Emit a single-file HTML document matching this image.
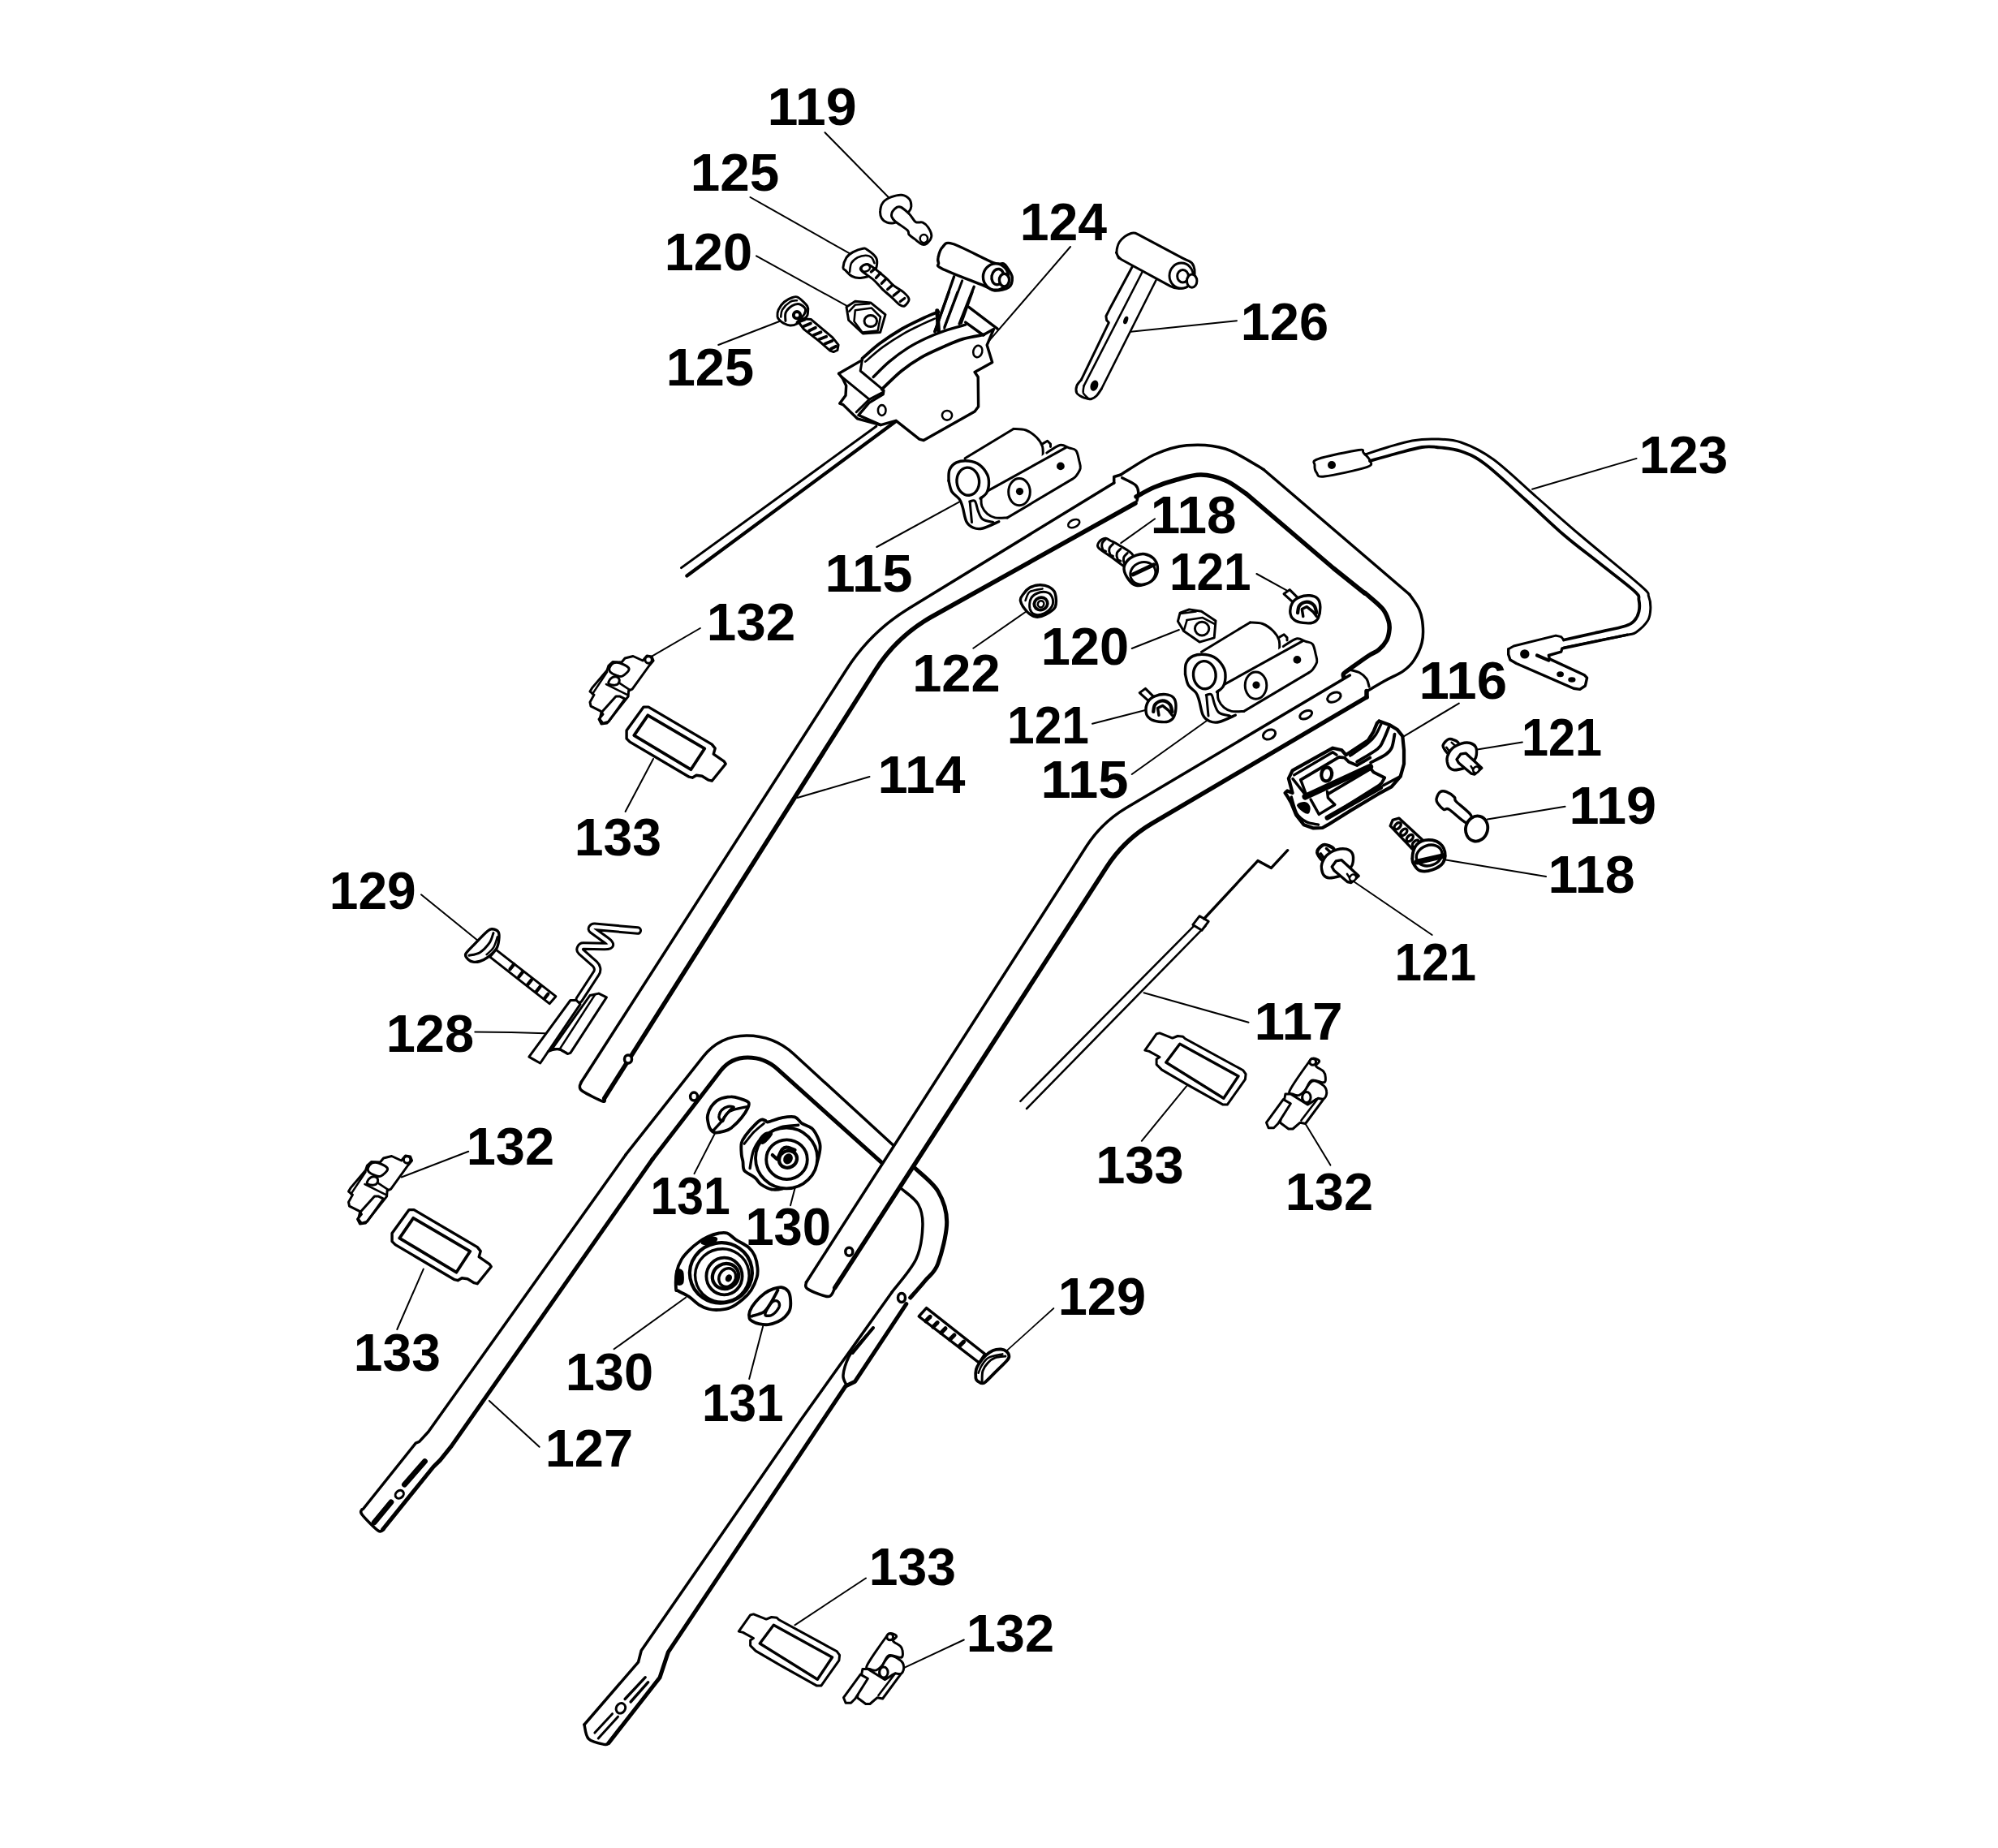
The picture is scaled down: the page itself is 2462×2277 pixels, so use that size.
<!DOCTYPE html>
<html><head><meta charset="utf-8"><style>
html,body{margin:0;padding:0;background:#fff;}
svg{position:absolute;left:0;top:0;display:block}
text{font-family:"Liberation Sans",sans-serif;font-weight:bold;fill:#000;stroke:none}
</style></head><body>
<svg width="2462" height="2277" viewBox="0 0 2462 2277" xmlns="http://www.w3.org/2000/svg" stroke="#000" stroke-linecap="round" stroke-linejoin="round" fill="none">
<text x="945.7" y="154.0" font-size="65" transform="matrix(1.0510,0,0,1,-48.47,0)">119</text>
<text x="850.7" y="235.0" font-size="65" transform="matrix(1.0098,0,0,1,-8.38,0)">125</text>
<text x="818.7" y="333.0" font-size="65">120</text>
<text x="820.7" y="475.0" font-size="65">125</text>
<text x="1256.7" y="296.0" font-size="65" transform="matrix(0.9904,0,0,1,12.12,0)">124</text>
<text x="1528.7" y="419.0" font-size="65">126</text>
<text x="2019.7" y="583.0" font-size="65" transform="matrix(1.0098,0,0,1,-19.84,0)">123</text>
<text x="1417.7" y="657.0" font-size="65" transform="matrix(1.0101,0,0,1,-14.36,0)">118</text>
<text x="1016.7" y="729.0" font-size="65" transform="matrix(1.0303,0,0,1,-30.94,0)">115</text>
<text x="1440.7" y="727.0" font-size="65" transform="matrix(0.9275,0,0,1,104.83,0)">121</text>
<text x="870.7" y="789.0" font-size="65" transform="matrix(1.0098,0,0,1,-8.58,0)">132</text>
<text x="1282.7" y="819.0" font-size="65">120</text>
<text x="1124.2" y="852.0" font-size="65">122</text>
<text x="1748.7" y="861.0" font-size="65" transform="matrix(1.0347,0,0,1,-60.82,0)">116</text>
<text x="1240.7" y="916.0" font-size="65" transform="matrix(0.9314,0,0,1,85.44,0)">121</text>
<text x="1874.7" y="931.0" font-size="65" transform="matrix(0.9137,0,0,1,162.11,0)">121</text>
<text x="1081.7" y="977.0" font-size="65" transform="matrix(1.0300,0,0,1,-32.58,0)">114</text>
<text x="1282.7" y="983.0" font-size="65" transform="matrix(1.0303,0,0,1,-39.00,0)">115</text>
<text x="1933.7" y="1015.0" font-size="65" transform="matrix(1.0265,0,0,1,-51.42,0)">119</text>
<text x="707.7" y="1054.0" font-size="65" transform="matrix(0.9902,0,0,1,6.98,0)">133</text>
<text x="1907.7" y="1100.0" font-size="65" transform="matrix(1.0202,0,0,1,-38.63,0)">118</text>
<text x="405.7" y="1120.0" font-size="65" transform="matrix(0.9863,0,0,1,5.63,0)">129</text>
<text x="1718.2" y="1208.0" font-size="65" transform="matrix(0.9272,0,0,1,125.42,0)">121</text>
<text x="1545.7" y="1281.0" font-size="65" transform="matrix(1.0408,0,0,1,-63.27,0)">117</text>
<text x="475.7" y="1296.0" font-size="65">128</text>
<text x="574.7" y="1435.0" font-size="65">132</text>
<text x="1350.2" y="1458.0" font-size="65">133</text>
<text x="1583.7" y="1491.0" font-size="65">132</text>
<text x="801.2" y="1496.0" font-size="65" transform="matrix(0.9058,0,0,1,75.86,0)">131</text>
<text x="918.3" y="1534.0" font-size="65" transform="matrix(0.9745,0,0,1,23.52,0)">130</text>
<text x="1303.7" y="1620.0" font-size="65">129</text>
<text x="435.7" y="1689.0" font-size="65" transform="matrix(0.9873,0,0,1,5.61,0)">133</text>
<text x="696.7" y="1713.0" font-size="65">130</text>
<text x="864.7" y="1751.5" font-size="65" transform="matrix(0.9284,0,0,1,62.19,0)">131</text>
<text x="671.7" y="1807.0" font-size="65">127</text>
<text x="1070.7" y="1953.5" font-size="65" transform="matrix(0.9892,0,0,1,11.59,0)">133</text>
<text x="1190.7" y="2035.0" font-size="65">132</text>
<path d="M1016.5,163.3 L1095.5,243.7" stroke-width="2.0" fill="none"/>
<path d="M924.5,243.0 L1047.6,312.7" stroke-width="2.0" fill="none"/>
<path d="M932.0,315.4 L1044.9,377.6" stroke-width="2.0" fill="none"/>
<path d="M885.2,425.0 L962.3,395.2" stroke-width="2.0" fill="none"/>
<path d="M1216.7,422.3 L1319.0,304.0" stroke-width="2.0" fill="none"/>
<path d="M1393.3,408.7 L1524.0,395.2" stroke-width="2.0" fill="none"/>
<path d="M1888.0,602.8 L2016.6,564.9" stroke-width="2.0" fill="none"/>
<path d="M1381.2,669.1 L1423.1,639.3" stroke-width="2.0" fill="none"/>
<path d="M1080.3,674.0 L1182.2,618.4" stroke-width="2.0" fill="none"/>
<path d="M1548.4,707.0 L1585.4,727.3" stroke-width="2.0" fill="none"/>
<path d="M862.9,774.0 L803.7,808.3" stroke-width="2.0" fill="none"/>
<path d="M1394.7,799.0 L1452.9,776.0" stroke-width="2.0" fill="none"/>
<path d="M1199.3,798.7 L1264.8,753.3" stroke-width="2.0" fill="none"/>
<path d="M1730.2,907.2 L1797.8,866.6" stroke-width="2.0" fill="none"/>
<path d="M1346.0,891.8 L1412.3,874.7" stroke-width="2.0" fill="none"/>
<path d="M1820.4,923.4 L1875.9,914.5" stroke-width="2.0" fill="none"/>
<path d="M982.6,983.0 L1071.5,957.0" stroke-width="2.0" fill="none"/>
<path d="M1394.7,954.0 L1486.7,888.3" stroke-width="2.0" fill="none"/>
<path d="M1832.9,1009.5 L1928.6,993.8" stroke-width="2.0" fill="none"/>
<path d="M805.0,935.0 L770.6,1000.0" stroke-width="2.0" fill="none"/>
<path d="M1781.5,1059.5 L1905.0,1080.0" stroke-width="2.0" fill="none"/>
<path d="M519.0,1102.3 L588.0,1158.3" stroke-width="2.0" fill="none"/>
<path d="M1667.9,1086.0 L1764.7,1152.0" stroke-width="2.0" fill="none"/>
<path d="M1409.5,1223.2 L1538.5,1259.7" stroke-width="2.0" fill="none"/>
<path d="M585.3,1271.4 L630.0,1271.9 L671.9,1273.3" stroke-width="2.0" fill="none"/>
<path d="M577.2,1418.8 L494.7,1450.5" stroke-width="2.0" fill="none"/>
<path d="M1462.2,1338.2 L1406.8,1405.8" stroke-width="2.0" fill="none"/>
<path d="M1608.3,1384.2 L1639.4,1435.6" stroke-width="2.0" fill="none"/>
<path d="M881.2,1396.0 L855.5,1446.1" stroke-width="2.0" fill="none"/>
<path d="M980.0,1462.3 L974.0,1485.3" stroke-width="2.0" fill="none"/>
<path d="M521.8,1563.6 L489.3,1638.0" stroke-width="2.0" fill="none"/>
<path d="M845.0,1598.8 L756.6,1662.3" stroke-width="2.0" fill="none"/>
<path d="M940.2,1634.1 L923.2,1699.1" stroke-width="2.0" fill="none"/>
<path d="M602.9,1725.9 L664.6,1782.7" stroke-width="2.0" fill="none"/>
<path d="M979.4,2002.3 L1067.0,1944.5" stroke-width="2.0" fill="none"/>
<path d="M1114.3,2054.8 L1187.8,2020.5" stroke-width="2.0" fill="none"/>
<path d="M447.3,1859.5 L512.3,1778.1 L516.6,1776.4 L527.8,1764.2 L771.1,1422.7" stroke-width="3.5" fill="none"/>
<path d="M771.1,1422.7 L866.3,1302.1 Q886.9,1276.0 920.1,1276.0 L920.1,1276.0 Q953.4,1276.0 977.9,1298.5 L1101.4,1411.7" stroke-width="3.5" fill="none"/>
<ellipse cx="855.1" cy="1351.1" rx="4.5" ry="5.0" transform="rotate(0 855.1 1351.1)" stroke-width="3.5" fill="#fff"/>
<path d="M1127.4,1439.3 C1132.1,1444.0 1149.2,1456.7 1155.8,1467.7 C1162.3,1478.8 1166.7,1490.7 1166.7,1505.6 C1166.7,1520.5 1160.2,1544.9 1155.8,1557.0 C1151.3,1569.1 1145.7,1571.0 1140.0,1578.0 C1134.3,1585.0 1124.8,1595.5 1121.7,1599.0" stroke-width="5.0" fill="none"/>
<path d="M1116.8,1606.7 L1053.6,1702.2 L1041.9,1708.0 L823.4,2035.6 L813.0,2067.0 L749.9,2147.7" stroke-width="5.0" fill="none"/>
<ellipse cx="1111.0" cy="1599.0" rx="4.5" ry="5.5" transform="rotate(0 1111.0 1599.0)" stroke-width="3.5" fill="#fff"/>
<path d="M1076.0,1636.0 C1072.5,1640.0 1060.0,1654.0 1055.0,1660.0 C1050.0,1666.0 1048.5,1666.3 1045.8,1672.0 C1043.1,1677.7 1039.5,1688.7 1039.0,1694.4 C1038.5,1700.1 1042.2,1704.1 1042.8,1706.0" stroke-width="3.5" fill="none"/>
<path d="M1076.0,1636.0 L1050.6,1667.0" stroke-width="4.0" fill="none"/>
<path d="M471.6,1884.6 L533.9,1807.5 L542.6,1798.9 L556.4,1781.6 L804.1,1428.2" stroke-width="5.0" fill="none"/>
<path d="M804.1,1428.2 L887.8,1319.5 Q900.5,1303.0 921.3,1303.0 L921.3,1303.0 Q942.1,1303.0 957.6,1316.9 L1087.7,1433.7" stroke-width="5" fill="none"/>
<path d="M1111.2,1465.0 C1114.6,1468.2 1127.2,1476.3 1131.5,1484.0 C1135.8,1491.7 1137.4,1499.7 1136.9,1511.0 C1136.5,1522.3 1135.1,1538.1 1128.8,1551.6 C1122.5,1565.1 1104.0,1585.4 1099.0,1592.2" stroke-width="3.5" fill="none"/>
<path d="M1099.0,1592.2 L986.4,1750.0 L790.2,2033.8 L786.6,2047.8 L720.0,2125.0" stroke-width="3.5" fill="none"/>
<path d="M446.0,1859.8 C446.0,1860.8 442.7,1861.6 446.0,1866.0 C449.3,1870.4 461.5,1883.0 466.0,1886.0 C470.5,1889.0 471.8,1884.5 473.0,1884.2" stroke-width="3.5" fill="none"/>
<path d="M720.0,2125.0 C720.9,2127.9 721.2,2138.3 725.3,2142.4 C729.4,2146.5 740.5,2148.5 744.6,2149.4 C748.7,2150.3 749.0,2148.0 749.9,2147.7" stroke-width="3.5" fill="none"/>
<path d="M716.3,1333.3 L1043.2,824.7 Q1072.9,778.4 1119.8,749.7 L1372.7,595.0" stroke-width="3.5" fill="none"/>
<path d="M1372.7,595.0 L1372.7,587.5 L1381.0,585.0" stroke-width="3.5" fill="none"/>
<path d="M1381.0,585.0 C1388.0,580.8 1409.2,566.0 1422.7,560.0 C1436.2,554.0 1447.8,549.9 1462.3,548.7 C1476.8,547.5 1494.2,548.0 1510.0,553.0 C1525.8,558.0 1549.2,574.2 1557.0,578.5" stroke-width="3.5" fill="none"/>
<path d="M1557.0,578.5 L1699.0,700.0 L1736.9,732.5" stroke-width="3.5" fill="none"/>
<path d="M1736.9,732.5 C1738.9,735.6 1746.1,744.6 1748.8,750.9 C1751.5,757.2 1752.7,763.4 1753.2,770.3 C1753.8,777.1 1753.9,784.8 1752.1,792.0 C1750.3,799.2 1746.1,807.8 1742.3,813.6 C1738.5,819.4 1735.1,822.5 1729.4,826.6 C1723.7,830.7 1714.9,834.2 1708.0,838.0 C1701.1,841.8 1692.2,847.1 1688.2,849.4 C1684.2,851.6 1684.7,851.1 1684.0,851.5" stroke-width="3.5" fill="none"/>
<path d="M716.3,1333.3 C716.0,1334.2 714.1,1337.1 714.4,1339.0 C714.7,1340.9 713.5,1341.7 718.2,1344.7 C722.9,1347.7 738.4,1355.6 742.8,1357.0 C747.2,1358.4 744.4,1353.8 744.7,1353.2" stroke-width="3.5" fill="none"/>
<path d="M744.7,1353.2 L1078.4,826.1 Q1105.1,783.9 1148.8,759.5 L1399.0,620.0" stroke-width="5.5" fill="none"/>
<path d="M1382.7,588.8 C1385.4,590.2 1395.7,594.6 1399.0,597.5 C1402.3,600.4 1402.4,603.0 1402.7,606.3 C1403.0,609.5 1401.3,615.2 1401.0,617.0" stroke-width="3.5" fill="none"/>
<path d="M1400.0,612.0 C1403.7,610.1 1413.7,604.0 1422.0,600.5 C1430.3,597.0 1440.3,593.6 1450.0,591.0 C1459.7,588.4 1470.0,584.8 1480.0,585.0 C1490.0,585.2 1500.8,588.1 1510.0,592.0 C1519.2,595.9 1531.2,605.5 1535.4,608.2" stroke-width="5.5" fill="none"/>
<path d="M1535.4,608.2 L1643.0,700.0 L1681.7,731.0" stroke-width="5.5" fill="none"/>
<path d="M1681.7,730.3 C1685.3,733.5 1698.5,744.0 1703.4,749.8 C1708.3,755.6 1709.6,760.7 1711.0,765.0 C1712.4,769.3 1712.4,771.8 1712.0,775.8 C1711.6,779.8 1711.0,784.6 1708.8,788.7 C1706.6,792.8 1702.8,797.4 1699.0,800.6 C1695.2,803.9 1691.8,804.4 1686.0,808.2 C1680.2,812.0 1669.4,819.8 1664.4,823.4 C1659.4,827.0 1657.2,828.1 1655.8,829.9 C1654.4,831.7 1655.8,833.5 1655.8,834.2" stroke-width="5.5" fill="none"/>
<path d="M1664.4,825.5 C1666.2,826.0 1672.0,827.0 1675.2,828.8 C1678.5,830.6 1681.9,833.5 1683.9,836.4 C1685.9,839.3 1686.6,844.5 1687.1,846.1" stroke-width="3.0" fill="none"/>
<path d="M1663.3,832.0 L1357.6,1013.4 L993.5,1580.0 L995.0,1588.0 L1020.6,1597.6 L1028.7,1586.8 L1385.4,1034.6 L1684.0,859.0 Z" stroke-width="0.0" fill="#fff"/>
<path d="M1663.3,832.0 L1387.7,995.5 Q1357.6,1013.4 1338.7,1042.8 L993.5,1580.0" stroke-width="3.5" fill="none"/>
<path d="M1684.0,851.5 L1684.0,859.0" stroke-width="5.5" fill="none"/>
<path d="M1684.0,859.0 L1419.9,1014.3 Q1385.4,1034.6 1363.7,1068.2 L1028.7,1586.8" stroke-width="5.5" fill="none"/>
<path d="M993.5,1580.0 C993.8,1581.3 990.5,1585.1 995.0,1588.0 C999.5,1590.9 1015.0,1597.8 1020.6,1597.6 C1026.2,1597.4 1027.4,1588.6 1028.7,1586.8" stroke-width="3.5" fill="none"/>
<ellipse cx="1643.9" cy="859.1" rx="8.7" ry="5.4" transform="rotate(-25 1643.9 859.1)" stroke-width="3.0" fill="#fff"/>
<ellipse cx="1609.2" cy="880.7" rx="8.0" ry="4.5" transform="rotate(-25 1609.2 880.7)" stroke-width="3.0" fill="#fff"/>
<ellipse cx="1564.0" cy="905.0" rx="8.0" ry="5.5" transform="rotate(-25 1564.0 905.0)" stroke-width="3.0" fill="#fff"/>
<ellipse cx="1046.3" cy="1542.2" rx="4.5" ry="5.0" transform="rotate(0 1046.3 1542.2)" stroke-width="3.5" fill="#fff"/>
<ellipse cx="774.0" cy="1305.0" rx="4.5" ry="5.0" transform="rotate(0 774.0 1305.0)" stroke-width="3.5" fill="#fff"/>
<path d="M1084.7,259.2 C1085.0,256.0 1086.0,251.8 1088.3,249.1 C1090.6,246.3 1094.6,244.2 1098.5,242.7 C1102.3,241.3 1107.6,239.8 1111.3,240.3 C1115.0,240.8 1118.9,243.3 1120.8,245.7 C1122.7,248.1 1122.9,252.0 1122.8,254.5 C1122.7,257.0 1122.4,257.8 1120.1,260.6 C1117.9,263.4 1112.4,269.0 1109.3,271.4 C1106.1,273.8 1103.9,274.3 1101.2,274.8 C1098.5,275.2 1095.5,275.1 1093.1,274.1 C1090.6,273.1 1087.7,271.2 1086.3,268.7 C1084.9,266.2 1084.3,262.5 1084.7,259.2 Z" stroke-width="2.98" fill="#fff"/>
<path d="M1099.8,260.6 C1100.9,258.7 1103.5,256.3 1105.2,255.4 C1107.0,254.6 1107.8,254.0 1110.4,255.4 C1113.0,256.9 1117.8,261.0 1120.8,264.0 C1123.8,267.0 1125.5,271.7 1128.2,273.4 C1130.9,275.1 1134.4,273.0 1137.0,274.1 C1139.6,275.2 1142.0,277.4 1143.8,280.2 C1145.6,283.0 1148.1,287.8 1147.8,291.0 C1147.6,294.3 1144.3,298.1 1142.4,299.8 C1140.5,301.5 1138.9,302.1 1136.3,301.2 C1133.7,300.3 1129.6,296.4 1126.9,294.4 C1124.2,292.4 1121.6,290.8 1120.1,289.0 C1118.6,287.2 1120.9,286.3 1118.1,283.6 C1115.3,280.9 1106.4,275.6 1103.2,272.8 C1100.0,269.9 1099.3,268.7 1098.7,266.7 C1098.2,264.6 1098.7,262.5 1099.8,260.6 Z" stroke-width="2.98" fill="#fff"/>
<ellipse cx="1138.4" cy="294.1" rx="4.7" ry="5.1" transform="rotate(0 1138.4 294.1)" stroke-width="2.55" fill="#fff"/>
<path d="M1038.9,329.6 C1039.1,326.9 1041.0,320.6 1043.0,317.4 C1045.0,314.2 1047.7,312.5 1051.1,310.6 C1054.5,308.8 1060.4,306.8 1063.3,306.3 C1066.2,305.8 1066.0,305.8 1068.7,307.7 C1071.4,309.5 1077.6,314.0 1079.5,317.4 C1081.4,320.8 1080.9,324.8 1080.2,328.2 C1079.5,331.6 1078.7,335.3 1075.5,337.7 C1072.2,340.1 1064.9,342.0 1060.6,342.4 C1056.3,342.9 1052.8,341.9 1049.8,340.4 C1046.7,338.9 1044.1,335.4 1042.3,333.6 C1040.5,331.8 1038.8,332.3 1038.9,329.6 Z" stroke-width="2.98" fill="#fff"/>
<path d="M1047.1,335.0 C1047.4,333.2 1047.5,327.1 1049.1,324.2 C1050.7,321.2 1053.6,319.0 1056.5,317.4 C1059.5,315.8 1063.7,314.7 1066.7,314.7 C1069.6,314.7 1072.3,315.8 1074.1,317.4 C1075.9,319.0 1076.9,323.0 1077.5,324.2" stroke-width="2.55" fill="none"/>
<path d="M1060.6,332.3 C1059.0,329.2 1064.4,326.5 1066.7,325.8 C1068.9,325.1 1069.9,325.5 1074.1,328.2 C1078.3,331.0 1087.2,338.5 1091.7,342.4 C1096.2,346.4 1097.6,349.0 1101.2,351.9 C1104.8,354.8 1110.2,357.2 1113.3,360.0 C1116.5,362.8 1119.9,366.0 1120.1,368.8 C1120.3,371.6 1116.6,375.8 1114.7,376.9 C1112.8,378.1 1111.3,377.4 1108.6,375.6 C1105.9,373.8 1102.0,369.3 1098.5,366.1 C1095.0,362.9 1091.4,360.2 1087.6,356.6 C1083.9,353.0 1080.7,348.5 1076.1,344.5 C1071.6,340.4 1062.2,335.4 1060.6,332.3 Z" stroke-width="2.98" fill="#fff"/>
<path d="M1073.4,335.0 L1078.2,330.9" stroke-width="3.4" fill="none"/>
<path d="M1079.5,342.4 L1084.9,336.3" stroke-width="3.4" fill="none"/>
<path d="M1086.3,349.2 L1091.7,343.8" stroke-width="3.4" fill="none"/>
<path d="M1093.7,356.6 L1099.8,351.2" stroke-width="3.4" fill="none"/>
<path d="M1101.2,364.1 L1107.9,358.7" stroke-width="3.4" fill="none"/>
<path d="M1109.3,371.5 L1114.7,367.5" stroke-width="3.4" fill="none"/>
<ellipse cx="1066.7" cy="330.3" rx="5.4" ry="4.1" transform="rotate(-20 1066.7 330.3)" stroke-width="2.55" fill="#fff"/>
<path d="M1043.0,378.3 L1053.8,371.2 L1072.8,372.9 L1091.0,387.7 L1084.7,409.4 L1063.3,411.0 L1045.7,394.5 L1043.0,378.3 Z" stroke-width="2.98" fill="#fff"/>
<path d="M1053.8,382.3 L1074.1,379.6 L1084.9,390.5 L1081.6,407.4 L1062.6,409.4 L1052.5,395.9 L1053.8,382.3" stroke-width="2.55" fill="none"/>
<path d="M1046.4,383.7 L1053.8,375.6 L1071.4,374.2" stroke-width="2.55" fill="none"/>
<ellipse cx="1072.8" cy="395.6" rx="7.8" ry="7.0" transform="rotate(0 1072.8 395.6)" stroke-width="2.98" fill="#fff"/>
<path d="M839.5,699.6 L1079.8,525.2" stroke-width="2.98" fill="none"/>
<path d="M846.4,709.5 L1104.0,519.0" stroke-width="4.25" fill="none"/>
<path d="M1212.4,412.3 L1224.5,405.5 L1216.2,425.2 L1222.7,446.4 L1201.1,458.5 L1205.2,464.5 L1205.6,500.9 L1201.1,507.0 L1138.2,542.6 L1132.9,541.1 L1104.1,518.3 L1085.2,523.6 L1057.9,511.5 L1070.8,496.4 L1088.2,485.8 L1088.9,481.2 L1086.7,479.7" stroke-width="3.4" fill="#fff"/>
<path d="M1086.7,479.7 C1090.7,475.9 1102.8,463.5 1110.9,457.0 C1119.0,450.4 1126.3,445.4 1135.2,440.3 C1144.0,435.3 1155.4,430.5 1163.9,426.7 C1172.5,422.9 1178.6,420.0 1186.7,417.6 C1194.7,415.2 1208.1,413.2 1212.4,412.3" stroke-width="3.82" fill="none"/>
<path d="M1033.6,460.3 L1062.4,443.6" stroke-width="3.4" fill="none"/>
<path d="M1033.6,460.3 L1038.2,466.1 L1042.7,475.2 L1042.0,487.3 L1034.8,497.1 L1038.9,498.6 L1056.4,515.8 L1085.2,523.6" stroke-width="3.4" fill="none"/>
<path d="M1036.7,463.8 L1071.2,492.1 L1088.5,483.0" stroke-width="2.98" fill="none"/>
<path d="M1071.2,492.1 L1055.2,507.7" stroke-width="2.98" fill="none"/>
<path d="M1062.4,443.6 L1060.2,457.0 L1087.4,479.7" stroke-width="2.98" fill="none"/>
<path d="M1062.4,441.8 C1066.0,438.8 1075.6,429.7 1083.6,423.6 C1091.7,417.6 1101.8,410.8 1110.9,405.5 C1120.0,400.2 1130.6,395.4 1138.2,391.8 C1145.8,388.3 1153.3,385.5 1156.4,384.2" stroke-width="3.82" fill="none"/>
<path d="M1066.2,445.6 C1069.9,442.6 1080.2,433.2 1088.2,427.4 C1096.1,421.6 1105.6,415.6 1113.9,410.8 C1122.3,406.0 1131.9,401.7 1138.2,398.6 C1144.5,395.6 1149.5,393.6 1151.8,392.6" stroke-width="2.55" fill="none"/>
<path d="M1076.1,464.5 C1079.3,461.4 1088.7,451.5 1095.8,445.6 C1102.8,439.7 1110.9,433.7 1118.5,428.9 C1126.1,424.1 1133.6,420.4 1141.2,416.8 C1148.8,413.3 1155.9,410.5 1163.9,407.7 C1172.0,404.9 1185.4,401.4 1189.7,400.2" stroke-width="3.4" fill="none"/>
<path d="M1193.5,378.2 L1229.1,405.2" stroke-width="3.4" fill="none"/>
<path d="M1189.7,397.1 L1211.7,413.0" stroke-width="3.4" fill="none"/>
<path d="M1151.8,408.5 L1169.2,360.0" stroke-width="3.4" fill="none"/>
<path d="M1163.9,402.4 L1179.8,360.0" stroke-width="2.98" fill="none"/>
<path d="M1184.4,397.9 L1198.0,360.0" stroke-width="3.4" fill="none"/>
<path d="M1154.8,382.7 L1156.4,407.0" stroke-width="5.1" fill="none"/>
<ellipse cx="1086.7" cy="505.5" rx="4.8" ry="6.4" transform="rotate(0 1086.7 505.5)" stroke-width="2.55" fill="#fff"/>
<ellipse cx="1167.0" cy="511.8" rx="6.1" ry="5.8" transform="rotate(0 1167.0 511.8)" stroke-width="2.55" fill="#fff"/>
<ellipse cx="1204.8" cy="433.0" rx="5.5" ry="7.3" transform="rotate(15 1204.8 433.0)" stroke-width="2.55" fill="#fff"/>
<path d="M1175.6,340.8 L1151.9,408.7" stroke-width="3.4" fill="none"/>
<path d="M1185.7,345.8 L1163.7,404.3" stroke-width="2.98" fill="none"/>
<path d="M1200.2,353.3 L1182.1,399.2" stroke-width="3.4" fill="none"/>
<path d="M1156.0,317.4 C1156.7,314.1 1158.3,307.4 1161.4,304.6 C1164.4,301.7 1163.8,297.3 1174.2,300.5 C1184.6,303.6 1213.2,319.4 1223.6,323.5 C1234.0,327.5 1233.4,323.6 1236.5,324.8 C1239.5,326.1 1240.1,328.1 1241.9,330.9 C1243.7,333.7 1247.0,337.9 1247.3,341.8 C1247.5,345.6 1246.8,351.2 1243.2,353.9 C1239.6,356.6 1230.8,358.3 1225.6,358.0 C1220.4,357.6 1222.9,356.4 1212.1,351.9 C1201.3,347.4 1169.9,335.6 1160.7,330.9 C1151.4,326.3 1157.4,326.4 1156.6,324.2 C1155.8,321.9 1155.2,320.7 1156.0,317.4 Z" stroke-width="3.4" fill="#fff"/>
<ellipse cx="1227.0" cy="341.1" rx="15.6" ry="16.2" transform="rotate(0 1227.0 341.1)" stroke-width="3.4" fill="#fff"/>
<ellipse cx="1229.4" cy="341.1" rx="7.4" ry="9.7" transform="rotate(10 1229.4 341.1)" stroke-width="3.4" fill="#fff"/>
<ellipse cx="1237.5" cy="345.1" rx="6.1" ry="7.8" transform="rotate(0 1237.5 345.1)" stroke-width="3.4" fill="#fff"/>
<path d="M958.0,390.0 C957.8,387.9 957.8,384.6 959.2,381.6 C960.6,378.6 963.5,374.5 966.4,372.0 C969.3,369.5 973.8,367.4 976.6,366.5 C979.5,365.6 980.5,364.7 983.5,366.5 C986.5,368.3 992.7,374.0 994.7,377.1 C996.6,380.2 995.6,383.0 995.4,385.2 C995.2,387.5 995.7,388.3 993.5,390.6 C991.2,392.9 985.3,397.3 982.0,399.0 C978.7,400.8 976.3,401.2 973.6,401.1 C970.9,401.0 968.0,399.5 965.8,398.4 C963.7,397.3 962.0,395.9 960.7,394.5 C959.4,393.1 958.3,392.2 958.0,390.0 Z" stroke-width="2.98" fill="#fff"/>
<path d="M962.2,390.6 C962.5,389.1 962.1,384.7 964.0,381.6 C965.9,378.5 970.6,373.9 973.6,372.0 C976.6,370.1 980.6,370.5 982.0,370.2" stroke-width="2.55" fill="none"/>
<path d="M967.9,395.4 C968.0,393.7 966.9,388.3 968.2,385.2 C969.6,382.1 973.2,378.6 976.0,376.8 C978.8,375.1 982.3,374.1 985.0,374.7 C987.7,375.3 991.3,378.4 992.3,380.4 C993.3,382.5 992.8,384.2 991.1,387.0 C989.3,389.8 983.5,395.5 982.0,397.2" stroke-width="2.98" fill="none"/>
<path d="M988.6,392.7 L999.5,393.6 L1025.9,415.9 L1033.1,424.9 L1031.9,431.5 L1027.1,433.6 L1022.9,432.1 L1009.1,420.1 L990.5,405.6 L985.6,399.0" stroke-width="2.98" fill="#fff"/>
<path d="M985.6,396.0 L991.7,393.6" stroke-width="3.82" fill="none"/>
<path d="M990.5,402.0 L998.9,398.4" stroke-width="3.82" fill="none"/>
<path d="M997.1,407.4 L1004.9,403.8" stroke-width="3.82" fill="none"/>
<path d="M1002.5,412.9 L1011.5,409.2" stroke-width="3.82" fill="none"/>
<path d="M1009.1,418.3 L1018.1,414.7" stroke-width="3.82" fill="none"/>
<path d="M1016.3,423.7 L1025.3,420.1" stroke-width="3.82" fill="none"/>
<path d="M1024.1,429.7 L1030.1,426.7" stroke-width="3.82" fill="none"/>
<ellipse cx="982.0" cy="388.2" rx="4.2" ry="4.2" transform="rotate(0 982.0 388.2)" stroke-width="3.82" fill="#fff"/>
<path d="M1395.3,328.5 L1367.3,380.8 L1362.9,389.5 L1363.6,394.5 L1366.3,397.6 L1332.4,467.9" stroke-width="2.98" fill="none"/>
<path d="M1332.4,467.9 C1331.5,469.1 1327.8,472.7 1326.8,475.4 C1325.9,478.0 1325.7,481.7 1326.8,484.1 C1328.0,486.4 1331.5,488.1 1333.7,489.3 C1335.9,490.5 1338.9,490.7 1339.9,491.0" stroke-width="2.98" fill="none"/>
<path d="M1407.1,336.0 L1335.6,475.4" stroke-width="2.55" fill="none"/>
<path d="M1335.6,475.4 C1335.5,476.8 1334.1,481.5 1334.9,484.1 C1335.8,486.6 1339.6,489.5 1340.5,490.5" stroke-width="2.55" fill="none"/>
<path d="M1424.5,345.3 L1357.3,479.1" stroke-width="2.55" fill="none"/>
<path d="M1357.3,479.1 C1356.3,480.5 1353.2,485.7 1351.1,487.8 C1349.0,489.9 1346.8,491.0 1344.9,491.5 C1343.0,492.1 1340.7,491.1 1339.9,491.0" stroke-width="2.98" fill="none"/>
<path d="M1378.5,317.9 L1376.9,314.5 Q1375.4,311.1 1376.2,307.4 L1376.9,304.2 Q1378.5,297.4 1384.0,293.1 L1386.4,291.2 Q1389.7,288.7 1393.7,287.5 L1393.7,287.5 Q1397.8,286.4 1401.5,288.4 L1456.4,317.6 Q1460.6,319.8 1465.0,321.6 L1465.1,321.7 Q1469.3,323.5 1470.9,327.9 L1470.9,327.9 Q1472.5,332.2 1472.1,336.8 L1471.7,341.2 Q1471.2,347.2 1466.5,350.9 L1466.5,350.9 Q1461.9,354.6 1455.9,355.2 L1455.0,355.3 Q1448.2,355.9 1442.2,352.6 L1381.8,319.7 Q1378.5,317.9 1376.9,314.5 L1375.4,311.1" stroke-width="2.975" fill="#fff"/>
<ellipse cx="1455.7" cy="339.7" rx="14.7" ry="15.6" transform="rotate(0 1455.7 339.7)" stroke-width="2.98" fill="#fff"/>
<ellipse cx="1457.5" cy="340.3" rx="6.8" ry="7.7" transform="rotate(0 1457.5 340.3)" stroke-width="2.98" fill="#fff"/>
<ellipse cx="1468.7" cy="346.2" rx="6.2" ry="8.1" transform="rotate(0 1468.7 346.2)" stroke-width="2.98" fill="#fff"/>
<ellipse cx="1387.2" cy="394.5" rx="2.7" ry="5.0" transform="rotate(20 1387.2 394.5)" stroke-width="0.0" fill="#000"/>
<ellipse cx="1348.4" cy="475.1" rx="4.7" ry="6.8" transform="rotate(20 1348.4 475.1)" stroke-width="0.0" fill="#000"/>
<path d="M1189.9,564.7 C1194.4,558.4 1206.7,554.6 1216.6,548.5 C1226.4,542.5 1241.0,531.5 1248.9,528.4 C1256.8,525.3 1259.4,528.2 1264.1,530.0 C1268.9,531.8 1274.0,535.6 1277.4,539.0 C1280.8,542.4 1283.3,546.2 1284.6,550.4 C1285.8,554.7 1291.6,558.0 1285.0,564.7 C1278.5,571.4 1257.8,582.1 1245.1,590.4 C1232.4,598.6 1218.2,614.8 1209.0,614.1 C1199.8,613.5 1193.1,594.8 1189.9,586.6 C1186.8,578.3 1185.5,571.0 1189.9,564.7 Z" stroke-width="0.0" fill="#fff"/>
<path d="M1189.0,564.7 L1248.9,528.4" stroke-width="2.98" fill="none"/>
<path d="M1248.9,528.4 C1251.4,528.6 1259.4,528.2 1264.1,530.0 C1268.9,531.8 1274.0,535.6 1277.4,539.0 C1280.8,542.4 1283.3,546.2 1284.6,550.4 C1285.8,554.7 1285.0,562.3 1285.0,564.7" stroke-width="2.98" fill="none"/>
<path d="M1285.0,546.6 L1290.7,543.3 L1294.5,547.1 L1294.5,550.4" stroke-width="2.98" fill="none"/>
<path d="M1288.8,558.0 C1299.0,550.7 1301.2,549.6 1306.0,548.5 C1310.7,547.5 1314.0,550.7 1317.4,551.9 C1320.7,553.0 1323.9,552.6 1325.9,555.2 C1328.0,557.8 1328.9,563.9 1329.7,567.5 C1330.6,571.2 1331.8,573.9 1331.2,577.1 C1330.5,580.2 1329.2,583.4 1325.9,586.6 C1322.7,589.7 1322.0,590.1 1311.7,596.1 C1301.4,602.1 1275.8,615.7 1264.1,622.7 C1252.4,629.7 1246.8,635.3 1241.3,637.9 C1235.7,640.5 1234.6,639.0 1230.8,638.4 C1227.0,637.8 1221.8,636.4 1218.5,634.1 C1215.1,631.8 1212.4,627.9 1210.9,624.6 C1209.3,621.3 1203.3,619.5 1209.0,614.1 C1214.7,608.8 1231.8,601.6 1245.1,592.3 C1258.4,582.9 1278.7,565.3 1288.8,558.0 Z" stroke-width="0.0" fill="#fff"/>
<path d="M1217.5,604.6 L1313.6,551.4" stroke-width="2.98" fill="none"/>
<path d="M1289.8,558.0 C1292.5,556.5 1301.4,549.6 1306.0,548.5 C1310.5,547.5 1314.0,550.7 1317.4,551.9 C1320.7,553.0 1323.9,552.6 1325.9,555.2 C1328.0,557.8 1328.9,563.9 1329.7,567.5 C1330.6,571.2 1331.8,573.9 1331.2,577.1 C1330.5,580.2 1327.6,584.3 1325.9,586.6 C1324.3,588.8 1322.0,589.7 1321.2,590.4" stroke-width="2.98" fill="none"/>
<path d="M1321.2,590.4 L1241.3,637.9" stroke-width="2.98" fill="none"/>
<path d="M1209.0,614.1 C1209.1,615.7 1208.6,620.5 1209.9,623.7 C1211.2,626.8 1213.9,630.8 1216.6,633.2 C1219.3,635.5 1222.0,637.1 1226.1,637.9 C1230.2,638.7 1238.8,637.9 1241.3,637.9" stroke-width="2.98" fill="none"/>
<ellipse cx="1256.0" cy="606.1" rx="13.3" ry="16.6" transform="rotate(0 1256.0 606.1)" stroke-width="2.98" fill="#fff"/>
<circle cx="1256.5" cy="605.6" r="4.6" stroke="none" fill="#000"/>
<circle cx="1306.9" cy="574.4" r="4.9" stroke="none" fill="#000"/>
<path d="M1169.0,592.3 C1169.2,590.1 1168.4,582.7 1170.0,579.0 C1171.6,575.2 1174.6,571.7 1178.5,569.9 C1182.5,568.1 1189.0,567.5 1193.7,568.0 C1198.5,568.5 1203.3,570.0 1207.1,572.8 C1210.9,575.6 1214.7,580.8 1216.6,584.7 C1218.5,588.5 1218.6,592.3 1218.5,596.1 C1218.3,599.9 1217.4,604.5 1215.6,607.5 C1213.9,610.5 1209.3,613.0 1208.0,614.1" stroke-width="3.4" fill="none"/>
<path d="M1169.0,592.3 C1169.7,594.5 1170.6,601.8 1172.8,605.6 C1175.0,609.4 1180.1,611.9 1182.3,615.1 C1184.6,618.3 1184.7,620.0 1186.1,624.6 C1187.6,629.2 1188.7,638.4 1190.9,642.7 C1193.1,646.9 1196.1,648.9 1199.4,650.3 C1202.8,651.7 1205.6,652.3 1210.9,651.0 C1216.1,649.8 1227.5,644.1 1230.8,642.7" stroke-width="3.4" fill="none"/>
<ellipse cx="1192.8" cy="593.2" rx="13.8" ry="17.1" transform="rotate(-5 1192.8 593.2)" stroke-width="3.4" fill="#fff"/>
<path d="M1194.7,617.9 C1195.8,617.9 1199.6,615.6 1201.4,617.5 C1203.1,619.4 1203.6,625.6 1205.2,629.4 C1206.7,633.1 1207.7,637.4 1210.9,639.8 C1214.0,642.2 1222.0,643.0 1224.2,643.6" stroke-width="2.98" fill="none"/>
<path d="M1195.2,618.9 L1197.5,643.6" stroke-width="2.98" fill="none"/>
<path d="M1481.4,803.2 C1485.9,796.9 1498.2,793.1 1508.1,787.0 C1517.9,781.0 1532.5,770.0 1540.4,766.9 C1548.3,763.8 1550.9,766.7 1555.6,768.5 C1560.4,770.3 1565.5,774.1 1568.9,777.5 C1572.3,780.9 1574.8,784.7 1576.1,788.9 C1577.3,793.2 1583.1,796.5 1576.5,803.2 C1570.0,809.9 1549.3,820.6 1536.6,828.9 C1523.9,837.1 1509.7,853.3 1500.5,852.6 C1491.3,852.0 1484.6,833.3 1481.4,825.1 C1478.3,816.8 1477.0,809.5 1481.4,803.2 Z" stroke-width="0.0" fill="#fff"/>
<path d="M1480.5,803.2 L1540.4,766.9" stroke-width="2.98" fill="none"/>
<path d="M1540.4,766.9 C1542.9,767.1 1550.9,766.7 1555.6,768.5 C1560.4,770.3 1565.5,774.1 1568.9,777.5 C1572.3,780.9 1574.8,784.7 1576.1,788.9 C1577.3,793.2 1576.5,800.8 1576.5,803.2" stroke-width="2.98" fill="none"/>
<path d="M1576.5,785.1 L1582.2,781.8 L1586.0,785.6 L1586.0,788.9" stroke-width="2.98" fill="none"/>
<path d="M1580.3,796.5 C1590.5,789.2 1592.7,788.1 1597.5,787.0 C1602.2,786.0 1605.5,789.2 1608.9,790.4 C1612.2,791.5 1615.4,791.1 1617.4,793.7 C1619.5,796.3 1620.4,802.4 1621.2,806.0 C1622.1,809.7 1623.3,812.4 1622.7,815.6 C1622.0,818.7 1620.7,821.9 1617.4,825.1 C1614.2,828.2 1613.5,828.6 1603.2,834.6 C1592.9,840.6 1567.3,854.2 1555.6,861.2 C1543.9,868.2 1538.3,873.8 1532.8,876.4 C1527.2,879.0 1526.1,877.5 1522.3,876.9 C1518.5,876.3 1513.3,874.9 1510.0,872.6 C1506.6,870.3 1503.9,866.4 1502.4,863.1 C1500.8,859.8 1494.8,858.0 1500.5,852.6 C1506.2,847.3 1523.3,840.1 1536.6,830.8 C1549.9,821.4 1570.2,803.8 1580.3,796.5 Z" stroke-width="0.0" fill="#fff"/>
<path d="M1509.0,843.1 L1605.1,789.9" stroke-width="2.98" fill="none"/>
<path d="M1581.3,796.5 C1584.0,795.0 1592.9,788.1 1597.5,787.0 C1602.0,786.0 1605.5,789.2 1608.9,790.4 C1612.2,791.5 1615.4,791.1 1617.4,793.7 C1619.5,796.3 1620.4,802.4 1621.2,806.0 C1622.1,809.7 1623.3,812.4 1622.7,815.6 C1622.0,818.7 1619.1,822.8 1617.4,825.1 C1615.8,827.3 1613.5,828.2 1612.7,828.9" stroke-width="2.98" fill="none"/>
<path d="M1612.7,828.9 L1532.8,876.4" stroke-width="2.98" fill="none"/>
<path d="M1500.5,852.6 C1500.6,854.2 1500.1,859.0 1501.4,862.2 C1502.7,865.3 1505.4,869.3 1508.1,871.7 C1510.8,874.0 1513.5,875.6 1517.6,876.4 C1521.7,877.2 1530.3,876.4 1532.8,876.4" stroke-width="2.98" fill="none"/>
<ellipse cx="1547.5" cy="844.6" rx="13.3" ry="16.6" transform="rotate(0 1547.5 844.6)" stroke-width="2.98" fill="#fff"/>
<circle cx="1548.0" cy="844.1" r="4.6" stroke="none" fill="#000"/>
<circle cx="1598.4" cy="812.9" r="4.9" stroke="none" fill="#000"/>
<path d="M1460.5,830.8 C1460.7,828.6 1459.9,821.2 1461.5,817.5 C1463.1,813.7 1466.1,810.2 1470.0,808.4 C1474.0,806.6 1480.5,806.0 1485.2,806.5 C1490.0,807.0 1494.8,808.5 1498.6,811.3 C1502.4,814.1 1506.2,819.3 1508.1,823.2 C1510.0,827.0 1510.1,830.8 1510.0,834.6 C1509.8,838.4 1508.9,843.0 1507.1,846.0 C1505.4,849.0 1500.8,851.5 1499.5,852.6" stroke-width="3.4" fill="none"/>
<path d="M1460.5,830.8 C1461.2,833.0 1462.1,840.3 1464.3,844.1 C1466.5,847.9 1471.6,850.4 1473.8,853.6 C1476.1,856.8 1476.2,858.5 1477.6,863.1 C1479.1,867.7 1480.2,876.9 1482.4,881.2 C1484.6,885.4 1487.6,887.4 1490.9,888.8 C1494.3,890.2 1497.1,890.8 1502.4,889.5 C1507.6,888.3 1519.0,882.6 1522.3,881.2" stroke-width="3.4" fill="none"/>
<ellipse cx="1484.3" cy="831.7" rx="13.8" ry="17.1" transform="rotate(-5 1484.3 831.7)" stroke-width="3.4" fill="#fff"/>
<path d="M1486.2,856.4 C1487.3,856.4 1491.1,854.1 1492.9,856.0 C1494.6,857.9 1495.1,864.1 1496.7,867.9 C1498.2,871.6 1499.2,875.9 1502.4,878.3 C1505.5,880.7 1513.5,881.5 1515.7,882.1" stroke-width="2.98" fill="none"/>
<path d="M1486.7,857.4 L1489.0,882.1" stroke-width="2.98" fill="none"/>
<path d="M1620.0,573.0 C1620.3,570.2 1615.0,568.7 1624.0,565.6 C1633.0,562.5 1664.7,555.7 1674.1,554.4 C1683.4,553.2 1677.7,555.8 1680.1,558.0 C1682.4,560.2 1687.4,564.7 1688.1,567.6 C1688.8,570.6 1693.4,572.4 1684.1,575.6 C1674.7,578.9 1642.3,585.9 1632.0,587.1 C1621.8,588.2 1624.4,584.8 1622.4,582.5 C1620.4,580.1 1619.8,575.8 1620.0,573.0 Z" stroke-width="2.98" fill="#fff"/>
<circle cx="1641.0" cy="573.0" r="5.0" stroke="none" fill="#000"/>
<path d="M1682.0,560.0 C1686.7,558.5 1700.3,553.8 1710.0,551.0 C1719.7,548.2 1730.4,544.7 1740.1,543.0 C1749.8,541.3 1758.2,540.7 1768.2,541.0 C1778.2,541.3 1788.2,540.8 1800.2,545.0 C1812.2,549.2 1824.6,554.7 1840.2,566.0 C1855.8,577.3 1876.0,597.3 1894.0,613.0 C1912.0,628.7 1926.6,641.9 1947.9,660.0 C1969.2,678.1 2007.8,709.2 2021.7,721.7 C2035.7,734.2 2029.6,730.1 2031.6,734.9 C2033.6,739.7 2034.0,745.3 2033.8,750.3 C2033.6,755.2 2033.4,759.8 2030.5,764.6 C2027.6,769.4 2020.4,776.0 2016.2,778.9 C2012.0,781.8 2013.6,780.4 2005.2,782.2 C1996.8,784.1 1979.0,787.4 1966.0,790.0 C1953.0,792.6 1933.5,796.7 1927.0,798.0" stroke-width="2.98" fill="none"/>
<path d="M1688.0,568.0 C1693.3,566.5 1709.3,561.8 1720.0,559.0 C1730.7,556.2 1743.8,552.3 1752.2,551.0 C1760.6,549.7 1762.2,550.2 1770.2,551.0 C1778.2,551.8 1790.2,552.5 1800.2,556.0 C1810.2,559.5 1816.9,562.0 1830.2,572.0 C1843.5,582.0 1863.7,601.3 1880.0,616.0 C1896.3,630.7 1912.9,647.0 1928.1,660.0 C1943.3,673.0 1956.7,682.6 1971.0,694.0 C1985.3,705.4 2005.9,720.8 2014.0,728.3 C2022.1,735.8 2018.6,735.1 2019.5,739.3 C2020.4,743.5 2020.4,749.4 2019.5,753.6 C2018.6,757.8 2016.8,761.7 2014.0,764.6 C2011.2,767.5 2011.2,768.6 2003.0,771.2 C1994.8,773.8 1977.7,777.1 1965.0,780.0 C1952.3,782.9 1933.3,787.1 1927.0,788.5" stroke-width="3.82" fill="none"/>
<path d="M1858.7,799.8 L1865.3,796.0 L1917.1,783.1 L1923.7,784.6 L1927.0,788.6" stroke-width="2.98" fill="none"/>
<path d="M2005.2,782.2 L1924.8,799.0 L1923.7,803.1 L1908.3,807.5 L1909.4,811.9 L1952.3,831.8 L1955.6,835.1 L1953.4,845.0 L1946.8,849.4 L1939.1,848.3 L1868.6,817.5 L1860.9,813.0 L1858.7,806.4 L1858.7,799.8" stroke-width="3.4" fill="none"/>
<path d="M1894.0,807.5 L1908.3,813.6" stroke-width="4.25" fill="none"/>
<circle cx="1878.8" cy="805.9" r="5.7" stroke="none" fill="#000"/>
<ellipse cx="1922.6" cy="830.7" rx="4.4" ry="3.5" transform="rotate(0 1922.6 830.7)" stroke-width="0.0" fill="#000"/>
<ellipse cx="1936.9" cy="837.5" rx="4.6" ry="3.3" transform="rotate(0 1936.9 837.5)" stroke-width="0.0" fill="#000"/>
<path d="M1353.5,674.8 C1351.0,671.5 1353.3,669.2 1354.7,667.3 C1356.2,665.3 1359.9,663.4 1362.2,663.2 C1364.5,663.0 1365.6,664.7 1368.5,666.2 C1371.5,667.7 1375.2,669.3 1379.8,672.2 C1384.3,675.2 1394.2,680.0 1395.9,683.8 C1397.5,687.6 1391.2,692.6 1389.5,695.0 C1387.9,697.5 1389.5,699.7 1386.2,698.3 C1383.0,697.0 1375.5,690.7 1370.0,686.8 C1364.6,682.9 1356.1,678.0 1353.5,674.8 Z" stroke-width="2.98" fill="#fff"/>
<path d="M1362.5,664.3 C1361.8,665.1 1358.6,667.4 1358.0,669.5 C1357.4,671.6 1358.0,675.4 1358.8,677.0 C1359.5,678.7 1361.9,678.9 1362.5,679.3" stroke-width="2.98" fill="none"/>
<path d="M1371.5,670.3 C1370.8,671.1 1367.7,673.4 1367.0,675.5 C1366.4,677.7 1367.0,681.4 1367.8,683.0 C1368.5,684.7 1370.9,684.9 1371.5,685.3" stroke-width="2.98" fill="none"/>
<path d="M1380.8,676.3 C1380.1,677.2 1377.0,679.4 1376.3,681.5 C1375.7,683.7 1376.3,687.4 1377.1,689.0 C1377.8,690.7 1380.2,690.9 1380.8,691.3" stroke-width="2.98" fill="none"/>
<path d="M1389.2,681.5 C1388.5,682.4 1385.4,684.7 1384.7,686.8 C1384.1,688.9 1384.7,692.7 1385.5,694.3 C1386.2,695.9 1388.6,696.2 1389.2,696.5" stroke-width="2.98" fill="none"/>
<path d="M1385.0,701.1 C1384.8,697.0 1387.0,693.3 1389.5,690.5 C1392.1,687.7 1396.6,685.5 1400.1,684.2 C1403.6,682.9 1407.1,682.1 1410.6,682.7 C1414.1,683.3 1418.5,685.3 1421.1,687.8 C1423.7,690.4 1425.8,694.3 1426.3,698.0 C1426.8,701.8 1426.0,706.7 1424.1,710.1 C1422.2,713.4 1419.1,716.4 1415.1,718.3 C1411.1,720.2 1404.1,721.9 1400.1,721.3 C1396.1,720.7 1393.6,717.9 1391.1,714.6 C1388.5,711.2 1385.3,705.1 1385.0,701.1 Z" stroke-width="3.4" fill="#fff"/>
<ellipse cx="1408.3" cy="706.3" rx="15.8" ry="13.5" transform="rotate(-20 1408.3 706.3)" stroke-width="2.98" fill="#fff"/>
<path d="M1396.3,707.8 L1421.8,695.8" stroke-width="5.1" fill="none"/>
<path d="M1582.0,731.8 L1589.2,726.6 L1601.3,738.6 L1595.3,743.8 L1582.0,731.8 Z" stroke-width="2.98" fill="#fff"/>
<path d="M1590.0,755.9 C1589.5,752.4 1590.4,746.4 1592.3,743.1 C1594.1,739.8 1597.6,737.4 1601.3,735.9 C1604.9,734.3 1610.3,733.5 1614.0,733.8 C1617.8,734.1 1621.7,735.5 1623.8,737.8 C1625.9,740.1 1626.7,743.7 1626.8,747.6 C1626.9,751.5 1626.0,757.9 1624.5,761.1 C1623.0,764.4 1620.9,766.1 1617.8,767.1 C1614.6,768.2 1609.5,767.9 1605.8,767.4 C1602.0,766.9 1597.9,766.0 1595.3,764.1 C1592.6,762.2 1590.5,759.4 1590.0,755.9 Z" stroke-width="3.4" fill="#fff"/>
<path d="M1599.0,755.1 C1599.4,753.6 1599.4,748.3 1601.3,746.1 C1603.1,743.8 1607.3,741.6 1610.3,741.6 C1613.3,741.6 1617.3,743.8 1619.3,746.1 C1621.3,748.3 1621.8,753.6 1622.3,755.1" stroke-width="4.25" fill="none"/>
<path d="M1605.8,759.6 L1604.3,750.6 L1610.3,747.6 L1617.8,753.6 L1622.3,759.6" stroke-width="3.4" fill="none"/>
<path d="M1451.4,765.6 L1454.1,755.1 L1465.4,750.9 L1480.4,753.3 L1498.0,764.9 L1496.2,785.9 L1478.1,791.1 L1458.6,777.6 L1451.4,765.6 Z" stroke-width="2.98" fill="#fff"/>
<path d="M1462.4,764.1 L1481.9,761.1 L1496.2,768.6" stroke-width="2.55" fill="none"/>
<path d="M1454.9,755.9 L1473.6,753.6" stroke-width="2.55" fill="none"/>
<path d="M1462.4,764.9 L1458.6,777.6" stroke-width="2.55" fill="none"/>
<ellipse cx="1481.1" cy="774.6" rx="8.7" ry="8.3" transform="rotate(0 1481.1 774.6)" stroke-width="2.98" fill="#fff"/>
<path d="M1257.5,740.4 C1256.6,736.7 1259.2,734.4 1261.2,731.7 C1263.1,729.0 1265.7,725.9 1268.9,724.1 C1272.2,722.3 1276.7,720.9 1280.6,720.8 C1284.5,720.6 1289.1,721.4 1292.3,723.1 C1295.6,724.8 1298.8,726.8 1300.1,730.9 C1301.4,735.0 1302.2,743.4 1300.3,747.8 C1298.4,752.1 1292.3,755.1 1288.4,757.2 C1284.5,759.3 1280.5,760.6 1276.7,760.1 C1273.0,759.6 1269.2,757.4 1266.0,754.1 C1262.8,750.8 1258.3,744.2 1257.5,740.4 Z" stroke-width="3.4" fill="#fff"/>
<path d="M1263.6,740.0 C1264.5,738.2 1265.5,731.7 1268.9,729.3 C1272.4,726.8 1281.9,726.0 1284.5,725.4" stroke-width="2.55" fill="none"/>
<path d="M1268.9,749.2 C1268.3,745.8 1268.8,739.8 1270.9,736.6 C1273.0,733.3 1278.0,730.7 1281.6,729.7 C1285.2,728.8 1289.7,729.3 1292.3,730.7 C1294.9,732.1 1296.5,735.3 1297.2,738.0 C1297.8,740.8 1298.0,744.3 1296.2,747.3 C1294.4,750.2 1290.0,754.2 1286.5,755.8 C1282.9,757.5 1277.7,758.1 1274.8,757.0 C1271.9,755.9 1269.6,752.6 1268.9,749.2 Z" stroke-width="2.98" fill="none"/>
<ellipse cx="1282.6" cy="743.9" rx="8.3" ry="7.6" transform="rotate(-20 1282.6 743.9)" stroke-width="3.82" fill="#fff"/>
<ellipse cx="1282.6" cy="744.3" rx="3.7" ry="4.1" transform="rotate(20 1282.6 744.3)" stroke-width="2.55" fill="#fff"/>
<path d="M1404.2,853.6 L1411.4,848.4 L1423.5,860.4 L1417.5,865.6 L1404.2,853.6 Z" stroke-width="2.98" fill="#fff"/>
<path d="M1412.2,877.7 C1411.7,874.2 1412.6,868.2 1414.5,864.9 C1416.3,861.6 1419.8,859.2 1423.5,857.7 C1427.1,856.1 1432.5,855.3 1436.2,855.6 C1440.0,855.9 1443.9,857.3 1446.0,859.6 C1448.1,861.9 1448.9,865.5 1449.0,869.4 C1449.1,873.3 1448.2,879.7 1446.7,882.9 C1445.2,886.2 1443.1,887.9 1440.0,888.9 C1436.8,890.0 1431.7,889.7 1428.0,889.2 C1424.2,888.7 1420.1,887.8 1417.5,885.9 C1414.8,884.0 1412.7,881.2 1412.2,877.7 Z" stroke-width="3.4" fill="#fff"/>
<path d="M1421.2,876.9 C1421.6,875.4 1421.6,870.1 1423.5,867.9 C1425.3,865.6 1429.5,863.4 1432.5,863.4 C1435.5,863.4 1439.5,865.6 1441.5,867.9 C1443.5,870.1 1444.0,875.4 1444.5,876.9" stroke-width="4.25" fill="none"/>
<path d="M1428.0,881.4 L1426.5,872.4 L1432.5,869.4 L1440.0,875.4 L1444.5,881.4" stroke-width="3.4" fill="none"/>
<path d="M1699.4,888.5 L1713.0,893.6 L1721.5,898.7 L1728.3,907.2 L1730.0,924.3 L1730.0,941.3 L1725.7,956.6 L1714.7,969.4 L1697.7,978.7 L1663.6,999.1 L1636.4,1016.2 L1629.6,1020.0 L1618.5,1020.4 L1606.6,1016.2 L1597.2,1004.3 L1590.9,988.9 L1587.0,982.1 L1583.6,977.0 L1586.2,974.5 L1592.6,977.0 L1587.9,959.1 L1592.6,949.4 L1642.3,921.7 L1653.4,924.3 L1658.5,930.2 L1685.7,912.3 L1692.6,901.3 L1696.8,891.1 L1699.4,888.5" stroke-width="4.25" fill="#fff"/>
<path d="M1701.9,891.9 C1700.8,894.2 1697.8,901.6 1695.1,905.5 C1692.4,909.5 1691.0,911.5 1685.7,915.7 C1680.5,920.0 1667.3,928.5 1663.6,931.1" stroke-width="3.4" fill="none"/>
<path d="M1711.3,896.2 C1710.1,898.9 1706.7,907.9 1704.5,912.3 C1702.2,916.7 1703.0,918.2 1697.7,922.6 C1692.3,927.0 1676.4,936.0 1672.1,938.7" stroke-width="3.82" fill="none"/>
<path d="M1718.5,904.7 C1717.9,907.4 1716.9,916.7 1715.1,920.9 C1713.3,925.0 1712.2,926.2 1707.9,929.4 C1703.5,932.5 1692.3,937.9 1689.1,939.6" stroke-width="3.82" fill="none"/>
<path d="M1594.7,954.9 L1642.3,926.8 L1647.0,930.2" stroke-width="3.4" fill="none"/>
<path d="M1602.8,960.9 L1650.0,932.8 L1656.8,933.6 L1661.9,938.7 L1672.1,943.0 L1688.3,933.6" stroke-width="3.82" fill="none"/>
<path d="M1608.3,981.7 L1688.3,944.7" stroke-width="7.65" fill="none"/>
<path d="M1637.2,977.9 L1689.1,947.2 L1692.6,951.5 L1706.2,958.3 L1702.8,964.3 L1699.4,967.7 L1660.2,992.3" stroke-width="3.82" fill="none"/>
<path d="M1635.5,1007.7 L1701.1,970.2" stroke-width="5.95" fill="none"/>
<path d="M1593.0,959.6 L1610.0,981.3" stroke-width="3.4" fill="none"/>
<path d="M1602.8,960.9 L1610.0,980.4" stroke-width="3.4" fill="none"/>
<path d="M1615.1,985.1 L1625.3,1003.4 L1644.9,991.5 L1636.4,983.0 L1635.5,975.3" stroke-width="3.4" fill="none"/>
<path d="M1704.5,967.7 L1725.7,956.6" stroke-width="3.4" fill="none"/>
<ellipse cx="1634.7" cy="954.0" rx="6.4" ry="8.5" transform="rotate(10 1634.7 954.0)" stroke-width="4.25" fill="#fff"/>
<path d="M1599.8,992.3 C1599.9,990.8 1605.3,989.5 1607.4,989.8 C1609.6,990.1 1611.8,992.2 1612.6,994.0 C1613.3,995.9 1612.7,1000.0 1611.7,1000.9 C1610.7,1001.7 1608.6,1000.6 1606.6,999.1 C1604.6,997.7 1599.6,993.9 1599.8,992.3 Z" stroke-width="3.4" fill="#000"/>
<path d="M1591.3,982.1 C1592.4,985.5 1595.0,997.4 1598.1,1002.6 C1601.2,1007.7 1605.6,1010.5 1610.0,1012.8 C1614.4,1015.0 1622.1,1015.6 1624.5,1016.2" stroke-width="3.4" fill="none"/>
<path d="M1778.1,918.4 C1778.6,915.7 1782.6,911.9 1785.0,910.8 C1787.3,909.7 1789.9,911.0 1792.0,911.9 C1794.1,912.8 1797.2,914.3 1797.4,916.2 C1797.6,918.0 1794.9,920.8 1793.1,923.0 C1791.3,925.2 1788.3,928.5 1786.6,929.2 C1784.8,929.8 1783.9,928.6 1782.5,926.8 C1781.1,925.0 1777.7,921.0 1778.1,918.4 Z" stroke-width="3.4" fill="#fff"/>
<path d="M1782.3,920.8 L1786.6,926.8" stroke-width="2.55" fill="none"/>
<path d="M1788.7,914.9 L1793.6,919.2" stroke-width="2.55" fill="none"/>
<path d="M1783.5,932.2 C1784.5,929.5 1786.1,925.4 1789.0,922.7 C1791.8,920.0 1797.1,917.4 1800.9,916.2 C1804.6,915.0 1808.5,914.8 1811.5,915.5 C1814.4,916.3 1817.2,918.1 1818.5,920.5 C1819.8,923.0 1819.6,927.6 1819.3,930.3 C1819.0,933.0 1818.5,934.4 1816.7,936.8 C1814.8,939.1 1810.4,942.5 1808.2,944.1 C1806.1,945.7 1806.6,945.7 1803.9,946.5 C1801.2,947.3 1795.0,948.8 1792.0,948.7 C1789.0,948.5 1787.2,947.1 1785.7,945.4 C1784.3,943.8 1783.7,940.9 1783.3,938.7 C1783.0,936.5 1782.6,934.9 1783.5,932.2 Z" stroke-width="3.4" fill="#fff"/>
<path d="M1795.0,935.7 L1799.8,929.2 L1806.1,928.1 L1825.8,946.3 L1817.1,954.1 L1812.8,953.0 L1797.4,940.0 L1795.0,935.7 Z" stroke-width="3.4" fill="#fff"/>
<path d="M1812.6,944.1 L1818.0,952.8" stroke-width="2.55" fill="none"/>
<ellipse cx="1819.0" cy="948.4" rx="3.5" ry="4.1" transform="rotate(40 1819.0 948.4)" stroke-width="2.55" fill="#fff"/>
<path d="M1770.1,984.2 C1770.7,981.8 1772.9,977.1 1774.9,975.7 C1776.9,974.3 1779.4,974.6 1782.3,975.7 C1785.1,976.8 1790.2,980.2 1792.2,982.2 C1794.2,984.2 1790.9,983.8 1794.4,987.6 C1797.8,991.4 1810.8,1000.6 1812.8,1004.9 C1814.8,1009.3 1810.8,1014.9 1806.3,1013.6 C1801.8,1012.3 1790.2,1000.1 1785.7,997.4 C1781.2,994.7 1781.6,998.6 1779.2,997.4 C1776.9,996.1 1773.2,992.0 1771.6,989.8 C1770.1,987.6 1769.6,986.5 1770.1,984.2 Z" stroke-width="3.4" fill="#fff"/>
<ellipse cx="1819.6" cy="1021.0" rx="13.5" ry="15.7" transform="rotate(15 1819.6 1021.0)" stroke-width="3.82" fill="#fff"/>
<path d="M1713.2,1017.7 L1716.2,1010.3 L1724.0,1008.2 L1753.2,1035.2 L1740.3,1046.1 L1713.2,1017.7 Z" stroke-width="3.4" fill="#fff"/>
<ellipse cx="1722.2" cy="1017.7" rx="3.0" ry="4.9" transform="rotate(45 1722.2 1017.7)" stroke-width="3.4" fill="#fff"/>
<ellipse cx="1729.8" cy="1025.3" rx="3.0" ry="4.9" transform="rotate(45 1729.8 1025.3)" stroke-width="3.4" fill="#fff"/>
<ellipse cx="1737.3" cy="1032.6" rx="3.0" ry="4.9" transform="rotate(45 1737.3 1032.6)" stroke-width="3.4" fill="#fff"/>
<ellipse cx="1744.4" cy="1039.4" rx="3.0" ry="4.9" transform="rotate(45 1744.4 1039.4)" stroke-width="3.4" fill="#fff"/>
<path d="M1740.3,1057.7 C1740.4,1054.2 1741.5,1047.5 1743.5,1043.9 C1745.5,1040.3 1748.6,1037.8 1752.2,1036.3 C1755.7,1034.9 1761.2,1034.7 1764.9,1035.2 C1768.7,1035.8 1772.1,1037.2 1774.7,1039.6 C1777.2,1041.9 1779.7,1045.4 1780.3,1049.3 C1780.9,1053.2 1780.7,1059.4 1778.1,1063.2 C1775.6,1066.9 1769.6,1070.2 1764.9,1071.8 C1760.2,1073.4 1753.8,1074.0 1750.0,1072.9 C1746.2,1071.8 1744.0,1067.8 1742.4,1065.3 C1740.8,1062.8 1740.1,1061.3 1740.3,1057.7 Z" stroke-width="3.82" fill="#fff"/>
<ellipse cx="1761.1" cy="1054.0" rx="16.2" ry="12.4" transform="rotate(-20 1761.1 1054.0)" stroke-width="3.4" fill="#fff"/>
<path d="M1746.0,1062.1 L1779.0,1054.5" stroke-width="6.8" fill="none"/>
<path d="M1257.4,1356.8 L1475.4,1136.6" stroke-width="2.55" fill="none"/>
<path d="M1265.1,1366.0 L1485.5,1140.8" stroke-width="2.55" fill="none"/>
<path d="M1469.9,1139.4 L1478.2,1128.7 L1489.2,1135.3 L1480.9,1146.3 L1469.9,1139.4 Z" stroke-width="2.98" fill="#fff"/>
<path d="M1483.7,1132.0 L1549.9,1060.6 L1566.5,1069.4 L1586.7,1047.7" stroke-width="3.4" fill="none"/>
<path d="M727.0,852.1 L730.0,847.1 L748.0,826.0 L750.0,820.0 L755.0,815.5 L766.0,816.0 L770.1,811.0 L780.1,808.5 L792.1,814.0 L797.1,808.0 L803.1,809.0 L805.1,814.0 L800.1,820.0 L779.1,849.1 L774.6,851.1 L774.1,858.1 L748.0,891.1 L741.0,892.1 L738.0,886.1 L743.0,880.1 L740.0,876.1 L728.0,870.1 L727.0,865.1 L732.0,856.1 L727.0,852.1 Z" stroke-width="2.98" fill="#fff"/>
<path d="M751.0,823.0 C751.7,821.2 753.9,818.0 756.0,817.0 C758.2,816.0 760.9,815.9 764.0,817.0 C767.2,818.2 774.6,821.4 775.1,824.0 C775.6,826.7 769.7,831.7 767.0,833.0 C764.4,834.4 761.5,832.9 759.0,832.0 C756.5,831.2 753.4,829.5 752.0,828.0 C750.7,826.5 750.4,824.9 751.0,823.0 Z" stroke-width="2.98" fill="none"/>
<path d="M750.0,840.1 C750.5,838.7 752.4,836.0 754.0,835.0 C755.7,834.0 758.5,833.7 760.0,834.0 C761.5,834.4 762.7,835.7 763.0,837.0 C763.4,838.4 762.9,840.9 762.0,842.1 C761.2,843.2 759.9,843.9 758.0,844.1 C756.2,844.2 752.4,843.7 751.0,843.1 C749.7,842.4 749.5,841.4 750.0,840.1 Z" stroke-width="2.98" fill="none"/>
<path d="M741.0,878.1 L759.0,858.1 L764.0,858.1 L770.1,861.1 L750.0,889.1 L743.0,891.1 L739.0,886.1 L741.0,878.1 Z" stroke-width="2.98" fill="none"/>
<path d="M730.0,855.1 L748.0,828.0" stroke-width="2.55" fill="none"/>
<path d="M747.0,843.1 L773.1,856.1" stroke-width="2.55" fill="none"/>
<path d="M764.0,842.1 L776.1,850.1" stroke-width="2.55" fill="none"/>
<ellipse cx="799.1" cy="813.0" rx="4.2" ry="4.2" transform="rotate(0 799.1 813.0)" stroke-width="2.98" fill="#fff"/>
<path d="M772.1,910.1 L772.1,900.1 L793.1,871.1 L799.1,871.1 L877.2,917.1 L881.2,922.1 L879.2,929.1 L892.2,938.1 L894.2,941.2 L877.2,962.2 L873.2,961.2 L865.1,956.2 L858.1,955.2 L853.1,958.2 L849.1,957.2 L776.1,914.1 L772.1,910.1 Z" stroke-width="3.4" fill="#fff"/>
<path d="M781.3,906.1 L798.3,881.3 L868.3,922.3 L851.3,948.2 L781.3,906.1 Z" stroke-width="3.82" fill="none"/>
<path d="M1410.8,1294.1 L1425.1,1273.9 L1429.0,1272.9 L1444.7,1279.1 L1451.2,1276.5 L1457.7,1277.2 L1460.3,1279.8 L1531.8,1318.8 L1535.1,1323.4 L1534.4,1329.9 L1512.3,1361.1 L1507.1,1361.1 L1462.9,1336.4 L1431.6,1318.1 L1425.1,1311.6 L1425.1,1305.1 L1429.0,1302.5 L1416.0,1295.4 L1410.8,1294.1 Z" stroke-width="2.98" fill="#fff"/>
<path d="M1436.8,1309.0 L1453.8,1286.3 L1526.0,1326.0 L1507.8,1353.3 L1436.8,1309.0 Z" stroke-width="3.4" fill="none"/>
<path d="M1589.7,1342.9 C1593.0,1336.4 1607.8,1315.5 1612.5,1309.0 C1617.2,1302.6 1615.8,1304.6 1617.7,1304.1 C1619.7,1303.6 1622.9,1305.1 1624.2,1305.8 C1625.5,1306.5 1626.0,1307.1 1625.5,1308.4 C1625.1,1309.7 1620.8,1311.6 1621.6,1313.6 C1622.5,1315.5 1628.8,1317.8 1630.7,1320.1 C1632.7,1322.4 1633.2,1325.0 1633.3,1327.3 C1633.4,1329.5 1634.2,1333.1 1631.4,1333.8 C1628.6,1334.4 1620.2,1329.6 1616.4,1331.2 C1612.6,1332.7 1611.2,1339.8 1608.6,1342.9 C1606.0,1345.9 1603.4,1348.5 1600.8,1349.4 C1598.2,1350.2 1594.8,1349.2 1593.0,1348.1 C1591.1,1347.0 1586.5,1349.4 1589.7,1342.9 Z" stroke-width="2.98" fill="#fff"/>
<path d="M1604.7,1353.3 C1604.9,1348.7 1612.3,1335.3 1616.4,1332.5 C1620.5,1329.6 1626.4,1334.4 1629.4,1336.4 C1632.5,1338.3 1634.2,1341.4 1634.6,1344.2 C1635.1,1347.0 1634.2,1351.5 1632.0,1353.3 C1629.9,1355.0 1624.4,1353.5 1621.6,1354.6 C1618.8,1355.7 1617.9,1360.0 1615.1,1359.8 C1612.3,1359.6 1604.5,1357.8 1604.7,1353.3 Z" stroke-width="2.98" fill="#fff"/>
<path d="M1577.4,1383.2 L1583.9,1348.1 L1590.4,1348.1 L1611.2,1361.1 L1624.2,1353.3 L1630.7,1354.6 L1608.6,1384.5 L1602.1,1383.2 L1593.0,1391.0 L1587.8,1391.0 L1577.4,1383.2 Z" stroke-width="2.98" fill="#fff"/>
<path d="M1560.5,1383.2 L1581.3,1354.6 L1590.4,1359.8 L1574.8,1384.5 L1569.6,1389.7 L1563.1,1389.7 L1560.5,1383.2 Z" stroke-width="2.98" fill="#fff"/>
<ellipse cx="1609.9" cy="1352.0" rx="5.2" ry="6.5" transform="rotate(0 1609.9 1352.0)" stroke-width="2.98" fill="#fff"/>
<path d="M1603.4,1380.6 L1624.2,1353.3" stroke-width="2.55" fill="none"/>
<ellipse cx="1617.7" cy="1308.4" rx="3.9" ry="3.9" transform="rotate(0 1617.7 1308.4)" stroke-width="2.98" fill="#fff"/>
<path d="M910.3,2010.1 L924.6,1989.9 L928.5,1988.9 L944.2,1995.1 L950.7,1992.5 L957.2,1993.2 L959.8,1995.8 L1031.3,2034.8 L1034.6,2039.4 L1033.9,2045.9 L1011.8,2077.1 L1006.6,2077.1 L962.4,2052.4 L931.1,2034.1 L924.6,2027.6 L924.6,2021.1 L928.5,2018.5 L915.5,2011.4 L910.3,2010.1 Z" stroke-width="2.98" fill="#fff"/>
<path d="M936.3,2025.0 L953.3,2002.3 L1025.5,2042.0 L1007.3,2069.3 L936.3,2025.0 Z" stroke-width="3.4" fill="none"/>
<path d="M1068.7,2051.4 C1072.0,2044.9 1086.8,2024.0 1091.5,2017.5 C1096.2,2011.1 1094.8,2013.1 1096.7,2012.6 C1098.7,2012.1 1101.9,2013.6 1103.2,2014.3 C1104.5,2015.0 1105.0,2015.6 1104.5,2016.9 C1104.1,2018.2 1099.8,2020.1 1100.6,2022.1 C1101.5,2024.0 1107.8,2026.3 1109.7,2028.6 C1111.7,2030.9 1112.2,2033.5 1112.3,2035.8 C1112.4,2038.0 1113.2,2041.6 1110.4,2042.3 C1107.6,2042.9 1099.2,2038.1 1095.4,2039.7 C1091.6,2041.2 1090.2,2048.3 1087.6,2051.4 C1085.0,2054.4 1082.4,2057.0 1079.8,2057.9 C1077.2,2058.7 1073.8,2057.7 1072.0,2056.6 C1070.1,2055.5 1065.5,2057.9 1068.7,2051.4 Z" stroke-width="2.98" fill="#fff"/>
<path d="M1083.7,2061.8 C1083.9,2057.2 1091.3,2043.8 1095.4,2041.0 C1099.5,2038.1 1105.4,2042.9 1108.4,2044.9 C1111.5,2046.8 1113.2,2049.9 1113.6,2052.7 C1114.1,2055.5 1113.2,2060.0 1111.0,2061.8 C1108.9,2063.5 1103.4,2062.0 1100.6,2063.1 C1097.8,2064.2 1096.9,2068.5 1094.1,2068.3 C1091.3,2068.1 1083.5,2066.3 1083.7,2061.8 Z" stroke-width="2.98" fill="#fff"/>
<path d="M1056.4,2091.7 L1062.9,2056.6 L1069.4,2056.6 L1090.2,2069.6 L1103.2,2061.8 L1109.7,2063.1 L1087.6,2093.0 L1081.1,2091.7 L1072.0,2099.5 L1066.8,2099.5 L1056.4,2091.7 Z" stroke-width="2.98" fill="#fff"/>
<path d="M1039.5,2091.7 L1060.3,2063.1 L1069.4,2068.3 L1053.8,2093.0 L1048.6,2098.2 L1042.1,2098.2 L1039.5,2091.7 Z" stroke-width="2.98" fill="#fff"/>
<ellipse cx="1088.9" cy="2060.5" rx="5.2" ry="6.5" transform="rotate(0 1088.9 2060.5)" stroke-width="2.98" fill="#fff"/>
<path d="M1082.4,2089.1 L1103.2,2061.8" stroke-width="2.55" fill="none"/>
<ellipse cx="1096.7" cy="2016.9" rx="3.9" ry="3.9" transform="rotate(0 1096.7 2016.9)" stroke-width="2.98" fill="#fff"/>
<path d="M429.5,1468.1 L432.5,1463.1 L450.5,1442.0 L452.5,1436.0 L457.5,1431.5 L468.5,1432.0 L472.6,1427.0 L482.6,1424.5 L494.6,1430.0 L499.6,1424.0 L505.6,1425.0 L507.6,1430.0 L502.6,1436.0 L481.6,1465.1 L477.1,1467.1 L476.6,1474.1 L450.5,1507.1 L443.5,1508.1 L440.5,1502.1 L445.5,1496.1 L442.5,1492.1 L430.5,1486.1 L429.5,1481.1 L434.5,1472.1 L429.5,1468.1 Z" stroke-width="2.98" fill="#fff"/>
<path d="M453.5,1439.0 C454.2,1437.2 456.4,1434.0 458.5,1433.0 C460.7,1432.0 463.4,1431.9 466.5,1433.0 C469.7,1434.2 477.1,1437.4 477.6,1440.0 C478.1,1442.7 472.2,1447.7 469.5,1449.0 C466.9,1450.4 464.0,1448.9 461.5,1448.0 C459.0,1447.2 455.9,1445.5 454.5,1444.0 C453.2,1442.5 452.9,1440.9 453.5,1439.0 Z" stroke-width="2.98" fill="none"/>
<path d="M452.5,1456.1 C453.0,1454.7 454.9,1452.0 456.5,1451.0 C458.2,1450.0 461.0,1449.7 462.5,1450.0 C464.0,1450.4 465.2,1451.7 465.5,1453.0 C465.9,1454.4 465.4,1456.9 464.5,1458.1 C463.7,1459.2 462.4,1459.9 460.5,1460.1 C458.7,1460.2 454.9,1459.7 453.5,1459.1 C452.2,1458.4 452.0,1457.4 452.5,1456.1 Z" stroke-width="2.98" fill="none"/>
<path d="M443.5,1494.1 L461.5,1474.1 L466.5,1474.1 L472.6,1477.1 L452.5,1505.1 L445.5,1507.1 L441.5,1502.1 L443.5,1494.1 Z" stroke-width="2.98" fill="none"/>
<path d="M432.5,1471.1 L450.5,1444.0" stroke-width="2.55" fill="none"/>
<path d="M449.5,1459.1 L475.6,1472.1" stroke-width="2.55" fill="none"/>
<path d="M466.5,1458.1 L478.6,1466.1" stroke-width="2.55" fill="none"/>
<ellipse cx="501.6" cy="1429.0" rx="4.2" ry="4.2" transform="rotate(0 501.6 1429.0)" stroke-width="2.98" fill="#fff"/>
<path d="M483.1,1529.6 L483.1,1519.6 L504.1,1490.6 L510.1,1490.6 L588.2,1536.6 L592.2,1541.6 L590.2,1548.6 L603.2,1557.6 L605.2,1560.7 L588.2,1581.7 L584.2,1580.7 L576.1,1575.7 L569.1,1574.7 L564.1,1577.7 L560.1,1576.7 L487.1,1533.6 L483.1,1529.6 Z" stroke-width="3.4" fill="#fff"/>
<path d="M492.3,1525.6 L509.3,1500.8 L579.3,1541.8 L562.3,1567.7 L492.3,1525.6 Z" stroke-width="3.82" fill="none"/>
<path d="M603.8,1179.1 L611.1,1170.1 L684.9,1227.7 L677.1,1236.7 L603.8,1179.1 Z" stroke-width="2.98" fill="#fff"/>
<path d="M628.5,1194.1 L633.3,1188.1" stroke-width="4.25" fill="none"/>
<path d="M639.3,1203.7 L644.1,1197.7" stroke-width="4.25" fill="none"/>
<path d="M650.1,1213.3 L654.9,1207.3" stroke-width="4.25" fill="none"/>
<path d="M660.9,1221.7 L665.7,1215.7" stroke-width="4.25" fill="none"/>
<path d="M671.1,1230.1 L675.3,1224.7" stroke-width="4.25" fill="none"/>
<path d="M573.8,1175.5 C575.0,1172.5 579.5,1168.8 584.0,1164.1 C588.5,1159.3 597.0,1150.4 600.8,1147.2 C604.6,1144.0 604.6,1144.6 606.8,1144.8 C609.0,1145.0 612.8,1146.2 614.1,1148.4 C615.4,1150.6 615.1,1154.6 614.7,1158.0 C614.3,1161.5 614.0,1165.3 611.7,1168.9 C609.3,1172.5 604.2,1177.1 600.8,1179.7 C597.4,1182.3 594.2,1183.6 591.2,1184.5 C588.2,1185.4 585.2,1185.5 582.8,1185.1 C580.4,1184.7 578.3,1183.7 576.8,1182.1 C575.3,1180.5 572.6,1178.5 573.8,1175.5 Z" stroke-width="3.4" fill="#fff"/>
<path d="M578.0,1177.3 C580.2,1176.7 587.0,1176.3 591.2,1173.7 C595.4,1171.1 600.4,1165.7 603.2,1161.7 C606.0,1157.6 607.2,1151.6 608.0,1149.6" stroke-width="2.98" fill="none"/>
<path d="M599.6,1176.1 C601.0,1174.7 605.8,1171.3 608.0,1167.7 C610.3,1164.1 612.1,1156.6 612.9,1154.4" stroke-width="2.55" fill="none"/>
<path d="M785.8,1146.6 L732.6,1141.7 Q730.6,1141.5 729.4,1143.2 L729.4,1143.2 Q728.2,1144.8 729.8,1146.0 L746.8,1158.3 Q758.2,1166.5 744.2,1166.1 L719.0,1165.6 Q716.2,1165.5 715.0,1168.1 L715.0,1168.1 Q713.8,1170.7 715.9,1172.6 L732.9,1187.6 Q735.4,1189.9 736.0,1193.2 L736.0,1193.2 Q736.6,1196.5 734.7,1199.3 L713.8,1231.3" stroke-width="10.5" fill="none"/>
<path d="M785.8,1146.6 L732.6,1141.7 Q730.6,1141.5 729.4,1143.2 L729.4,1143.2 Q728.2,1144.8 729.8,1146.0 L746.8,1158.3 Q758.2,1166.5 744.2,1166.1 L719.0,1165.6 Q716.2,1165.5 715.0,1168.1 L715.0,1168.1 Q713.8,1170.7 715.9,1172.6 L732.9,1187.6 Q735.4,1189.9 736.0,1193.2 L736.0,1193.2 Q736.6,1196.5 734.7,1199.3 L713.8,1231.3" stroke-width="4.5" stroke="#fff" fill="none"/>
<path d="M680.1,1292.6 L727.0,1226.5 L737.8,1224.1 L747.4,1228.9 L702.9,1297.4 L699.3,1298.6 L689.7,1292.6 L680.1,1292.6 Z" stroke-width="2.98" fill="#fff"/>
<path d="M689.7,1292.6 L733.0,1225.9" stroke-width="2.55" fill="none"/>
<path d="M651.9,1302.2 L702.9,1232.5 L710.2,1232.5 L715.0,1237.3 L665.7,1310.0 L656.1,1304.6 L651.9,1302.2 Z" stroke-width="2.98" fill="#fff"/>
<path d="M675.3,1295.6 C676.5,1295.2 680.1,1293.6 682.5,1293.2 C684.9,1292.8 687.1,1292.5 689.7,1293.2 C692.3,1293.9 696.7,1296.7 698.1,1297.4" stroke-width="2.98" fill="none"/>
<path d="M1132.2,1622.0 L1141.6,1611.6 L1213.7,1668.4 L1206.5,1679.2 L1132.2,1622.0 Z" stroke-width="3.4" fill="#fff"/>
<path d="M1140.7,1627.8 L1146.1,1622.4" stroke-width="5.1" fill="none"/>
<path d="M1149.7,1635.0 L1155.1,1629.6" stroke-width="5.1" fill="none"/>
<path d="M1159.6,1642.3 L1165.0,1636.8" stroke-width="5.1" fill="none"/>
<path d="M1170.5,1650.4 L1175.9,1645.0" stroke-width="5.1" fill="none"/>
<path d="M1182.2,1658.5 L1187.6,1653.1" stroke-width="5.1" fill="none"/>
<path d="M1202.4,1698.1 C1202.1,1695.7 1202.2,1690.3 1202.9,1687.3 C1203.6,1684.3 1204.5,1682.9 1206.5,1680.1 C1208.4,1677.2 1211.7,1672.9 1214.6,1670.2 C1217.4,1667.5 1220.5,1665.2 1223.6,1663.9 C1226.8,1662.6 1230.8,1662.4 1233.5,1662.5 C1236.2,1662.7 1238.2,1663.3 1239.8,1664.8 C1241.5,1666.2 1243.3,1669.1 1243.4,1671.1 C1243.6,1673.0 1243.3,1673.5 1240.7,1676.5 C1238.2,1679.5 1232.3,1684.9 1228.1,1689.1 C1223.9,1693.3 1218.3,1699.2 1215.5,1701.7 C1212.6,1704.3 1212.8,1704.4 1211.0,1704.4 C1209.2,1704.4 1206.1,1702.8 1204.7,1701.7 C1203.3,1700.7 1202.7,1700.5 1202.4,1698.1 Z" stroke-width="3.82" fill="#fff"/>
<path d="M1210.1,1701.7 C1210.2,1699.6 1209.8,1692.9 1211.0,1689.1 C1212.2,1685.3 1214.7,1681.9 1217.3,1679.2 C1219.8,1676.5 1222.7,1674.2 1226.3,1672.9 C1229.9,1671.5 1236.8,1671.4 1238.9,1671.1" stroke-width="2.98" fill="none"/>
<path d="M1205.6,1691.8 C1206.3,1690.2 1208.0,1685.0 1210.1,1681.9 C1212.2,1678.7 1214.0,1675.1 1218.2,1672.9 C1222.4,1670.6 1232.5,1669.1 1235.3,1668.4" stroke-width="2.55" fill="none"/>
<path d="M1239.8,1664.8 L1298.4,1612.0" stroke-width="1.7" fill="none"/>
<path d="M872.1,1373.8 C872.8,1370.9 874.1,1366.6 876.5,1363.4 C878.8,1360.2 881.9,1356.7 886.0,1354.7 C890.0,1352.7 896.2,1351.4 900.7,1351.3 C905.2,1351.1 909.2,1352.7 912.8,1353.9 C916.4,1355.0 920.9,1356.3 922.3,1358.2 C923.8,1360.1 922.9,1361.9 921.5,1365.1 C920.0,1368.3 917.0,1373.2 913.7,1377.2 C910.4,1381.3 905.0,1386.6 901.6,1389.4 C898.1,1392.1 896.4,1392.7 892.9,1393.7 C889.4,1394.7 883.8,1396.0 880.8,1395.4 C877.7,1394.8 876.2,1392.7 874.7,1390.2 C873.3,1387.8 872.6,1383.4 872.1,1380.7 C871.7,1378.0 871.4,1376.7 872.1,1373.8 Z" stroke-width="3.82" fill="#fff"/>
<path d="M878.6,1393.2 C880.3,1391.4 885.2,1386.4 888.6,1382.4 C892.0,1378.5 893.8,1372.5 899.0,1369.4 C904.2,1366.3 916.3,1364.7 919.7,1363.8" stroke-width="3.4" fill="none"/>
<path d="M886.0,1374.6 C886.4,1372.8 887.6,1369.6 889.4,1367.7 C891.3,1365.8 894.8,1364.0 897.2,1363.4 C899.7,1362.8 903.7,1363.5 904.2,1364.2 C904.6,1365.0 901.7,1365.7 899.8,1367.7 C898.0,1369.7 894.5,1374.1 892.9,1376.4 C891.3,1378.7 891.3,1381.1 890.3,1381.6 C889.3,1382.0 887.6,1380.1 886.8,1379.0 C886.1,1377.8 885.5,1376.5 886.0,1374.6 Z" stroke-width="3.4" fill="none"/>
<path d="M913.7,1408.4 C914.5,1404.5 916.3,1402.5 918.9,1398.9 C921.5,1395.3 926.1,1389.9 929.3,1386.8 C932.4,1383.6 935.6,1380.8 937.9,1379.8 C940.2,1378.8 941.7,1380.3 943.1,1380.7 C944.6,1381.1 943.1,1383.0 946.6,1382.4 C950.0,1381.8 958.4,1378.2 963.9,1377.2 C969.4,1376.2 975.4,1375.2 979.5,1376.4 C983.5,1377.5 984.7,1381.8 988.1,1384.2 C991.6,1386.5 997.1,1387.5 1000.3,1390.2 C1003.4,1393.0 1005.5,1397.0 1007.2,1400.6 C1008.9,1404.2 1010.4,1407.8 1010.6,1411.9 C1010.9,1415.9 1009.8,1421.0 1008.9,1424.8 C1008.1,1428.7 1007.2,1431.9 1005.5,1435.2 C1003.7,1438.6 1001.8,1441.9 998.5,1444.8 C995.2,1447.6 990.2,1450.0 985.5,1452.6 C980.9,1455.2 974.4,1458.3 970.8,1460.3 C967.2,1462.4 967.2,1463.8 963.9,1464.7 C960.6,1465.5 955.2,1466.4 950.9,1465.5 C946.6,1464.7 941.1,1461.6 937.9,1459.5 C934.7,1457.3 933.6,1454.3 931.9,1452.6 C930.1,1450.8 930.0,1450.8 927.5,1449.1 C925.1,1447.4 919.2,1445.2 917.1,1442.2 C915.1,1439.1 916.0,1434.2 915.4,1430.9 C914.8,1427.6 914.0,1426.0 913.7,1422.3 C913.4,1418.5 912.8,1412.3 913.7,1408.4 Z" stroke-width="3.82" fill="#fff"/>
<path d="M917.1,1409.3 C919.2,1406.8 925.2,1398.7 929.3,1394.5 C933.3,1390.4 939.4,1385.9 941.4,1384.2" stroke-width="2.98" fill="none"/>
<path d="M924.1,1439.6 C924.8,1436.0 926.1,1424.1 928.4,1417.9 C930.7,1411.7 934.7,1405.9 937.9,1402.3 C941.1,1398.7 943.4,1398.5 947.4,1396.3 C951.5,1394.0 956.1,1390.6 962.2,1388.9 C968.2,1387.3 980.2,1386.8 983.8,1386.3" stroke-width="3.4" fill="none"/>
<ellipse cx="969.1" cy="1427.0" rx="38.1" ry="37.4" transform="rotate(0 969.1 1427.0)" stroke-width="3.82" fill="#fff"/>
<ellipse cx="969.5" cy="1428.7" rx="25.3" ry="24.4" transform="rotate(0 969.5 1428.7)" stroke-width="3.82" fill="#fff"/>
<path d="M951.8,1423.1 C952.8,1424.0 956.7,1427.7 957.8,1428.3 C959.0,1428.9 957.7,1428.6 958.7,1426.6 C959.7,1424.6 962.0,1418.4 963.9,1416.2 C965.8,1414.0 967.4,1413.4 970.0,1413.6 C972.6,1413.7 977.9,1416.5 979.5,1417.1" stroke-width="4.25" fill="none"/>
<ellipse cx="971.0" cy="1428.3" rx="11.3" ry="10.2" transform="rotate(-30 971.0 1428.3)" stroke-width="4.25" fill="#fff"/>
<ellipse cx="971.0" cy="1427.9" rx="5.6" ry="6.8" transform="rotate(30 971.0 1427.9)" stroke-width="0.0" fill="#000"/>
<ellipse cx="971.0" cy="1427.9" rx="0.0" ry="0.0" transform="rotate(0 971.0 1427.9)" stroke-width="0.0" fill="#000"/>
<path d="M936.2,1404.1 C936.6,1402.0 940.7,1397.4 943.1,1396.3 C945.6,1395.1 951.3,1395.1 950.9,1397.1 C950.5,1399.2 943.0,1407.2 940.5,1408.4 C938.1,1409.6 935.8,1406.1 936.2,1404.1 Z" stroke-width="2.55" fill="#000"/>
<path d="M833.0,1587.9 C832.7,1584.0 832.7,1573.2 833.9,1567.1 C835.0,1561.1 837.3,1556.0 839.9,1551.6 C842.5,1547.1 846.0,1543.8 849.4,1540.3 C852.9,1536.8 856.9,1533.5 860.7,1530.8 C864.4,1528.0 867.8,1525.7 871.9,1523.9 C876.1,1522.0 881.8,1520.2 885.8,1519.5 C889.8,1518.8 892.7,1518.2 896.2,1519.5 C899.7,1520.8 902.3,1524.4 906.6,1527.3 C910.9,1530.2 918.3,1533.5 922.2,1536.8 C926.1,1540.2 928.1,1543.0 930.0,1547.2 C931.8,1551.4 933.0,1557.5 933.4,1561.9 C933.9,1566.4 933.9,1569.5 932.6,1574.1 C931.3,1578.7 928.5,1585.2 925.6,1589.7 C922.7,1594.1 919.6,1597.3 915.2,1600.9 C910.9,1604.5 904.6,1609.1 899.7,1611.3 C894.7,1613.5 890.1,1613.6 885.8,1613.9 C881.5,1614.2 877.7,1614.0 873.7,1613.0 C869.6,1612.0 865.7,1610.4 861.6,1607.8 C857.4,1605.2 852.9,1600.3 848.6,1597.4 C844.2,1594.6 838.2,1592.1 835.6,1590.5 C833.0,1588.9 833.3,1591.8 833.0,1587.9 Z" stroke-width="3.82" fill="#fff"/>
<ellipse cx="888.4" cy="1568.4" rx="38.5" ry="37.1" transform="rotate(-10 888.4 1568.4)" stroke-width="4.25" fill="#fff"/>
<ellipse cx="889.9" cy="1571.5" rx="33.3" ry="32.7" transform="rotate(-10 889.9 1571.5)" stroke-width="3.4" fill="#fff"/>
<ellipse cx="892.5" cy="1572.5" rx="22.1" ry="22.9" transform="rotate(0 892.5 1572.5)" stroke-width="3.82" fill="#fff"/>
<ellipse cx="894.0" cy="1572.5" rx="16.5" ry="15.2" transform="rotate(-30 894.0 1572.5)" stroke-width="4.25" fill="#fff"/>
<ellipse cx="896.2" cy="1574.1" rx="10.0" ry="11.7" transform="rotate(30 896.2 1574.1)" stroke-width="3.4" fill="#fff"/>
<ellipse cx="897.9" cy="1574.9" rx="3.9" ry="4.8" transform="rotate(30 897.9 1574.9)" stroke-width="0.0" fill="#000"/>
<path d="M833.9,1565.4 C835.0,1563.1 839.6,1564.5 840.8,1567.1 C841.9,1569.7 841.9,1578.7 840.8,1581.0 C839.6,1583.3 835.0,1583.6 833.9,1581.0 C832.7,1578.4 832.7,1567.7 833.9,1565.4 Z" stroke-width="2.55" fill="#000"/>
<path d="M865.0,1531.6 C865.0,1530.3 869.1,1525.7 871.9,1524.7 C874.8,1523.7 880.9,1524.7 882.3,1525.6 C883.8,1526.5 882.3,1528.8 880.6,1529.9 C878.9,1531.1 874.5,1532.2 871.9,1532.5 C869.4,1532.8 865.0,1532.9 865.0,1531.6 Z" stroke-width="2.55" fill="#000"/>
<path d="M923.5,1624.3 C923.0,1622.3 922.7,1618.9 923.9,1615.6 C925.1,1612.3 927.6,1608.1 930.8,1604.4 C934.0,1600.6 939.2,1595.9 942.9,1593.1 C946.7,1590.4 950.0,1589.1 953.3,1587.9 C956.7,1586.8 959.8,1585.6 962.9,1586.2 C965.9,1586.8 969.6,1588.8 971.5,1591.4 C973.4,1594.0 973.8,1598.0 974.1,1601.8 C974.4,1605.5 974.4,1610.4 973.2,1613.9 C972.1,1617.4 969.6,1620.1 967.2,1622.6 C964.7,1625.0 962.0,1627.0 958.5,1628.6 C955.1,1630.2 950.3,1631.6 946.4,1632.1 C942.5,1632.5 938.5,1631.9 935.2,1631.2 C931.8,1630.5 928.4,1628.9 926.5,1627.7 C924.5,1626.6 923.9,1626.3 923.5,1624.3 Z" stroke-width="3.82" fill="#fff"/>
<path d="M926.5,1621.7 C928.9,1620.8 937.3,1619.2 941.2,1616.5 C945.1,1613.8 947.0,1609.7 949.9,1605.2 C952.8,1600.8 957.1,1592.3 958.5,1589.7" stroke-width="3.82" fill="none"/>
<path d="M942.9,1620.0 C942.5,1618.1 945.7,1612.3 947.3,1609.6 C948.9,1606.8 950.6,1604.5 952.5,1603.5 C954.3,1602.5 957.2,1602.5 958.5,1603.5 C959.8,1604.5 960.8,1607.3 960.3,1609.6 C959.7,1611.9 956.8,1615.5 955.1,1617.4 C953.3,1619.2 951.9,1620.4 949.9,1620.8 C947.8,1621.3 943.4,1621.8 942.9,1620.0 Z" stroke-width="3.4" fill="none"/>
<path d="M523.5,1800.6 L498.4,1829.2" stroke-width="6.8" fill="none"/>
<path d="M481.9,1850.8 L461.2,1875.9" stroke-width="6.8" fill="none"/>
<ellipse cx="492.3" cy="1841.3" rx="5.5" ry="4.5" transform="rotate(-40 492.3 1841.3)" stroke-width="2.98" fill="#fff"/>
<path d="M770.1,2093.5 L795.2,2066.7" stroke-width="3.4" fill="none"/>
<path d="M777.1,2097.0 L798.7,2072.7" stroke-width="3.4" fill="none"/>
<ellipse cx="764.9" cy="2104.8" rx="5.5" ry="6.5" transform="rotate(30 764.9 2104.8)" stroke-width="2.98" fill="#fff"/>
<path d="M754.5,2111.7 L732.9,2135.1" stroke-width="2.98" fill="none"/>
<path d="M761.5,2115.2 L737.2,2142.0" stroke-width="2.98" fill="none"/>
<path d="M1623.1,1049.3 C1623.5,1046.4 1627.9,1042.3 1630.4,1041.1 C1632.9,1040.0 1635.7,1041.3 1637.9,1042.3 C1640.2,1043.3 1643.6,1044.9 1643.8,1046.9 C1643.9,1048.9 1641.0,1051.9 1639.1,1054.3 C1637.2,1056.6 1634.0,1060.2 1632.1,1060.9 C1630.2,1061.6 1629.2,1060.3 1627.7,1058.3 C1626.2,1056.4 1622.6,1052.1 1623.1,1049.3 Z" stroke-width="4.25" fill="#fff"/>
<path d="M1627.5,1051.9 L1632.1,1058.3" stroke-width="3.4" fill="none"/>
<path d="M1634.4,1045.5 L1639.7,1050.2" stroke-width="3.4" fill="none"/>
<path d="M1628.9,1064.1 C1629.9,1061.3 1631.6,1056.8 1634.7,1053.9 C1637.8,1051.0 1643.4,1048.2 1647.5,1046.9 C1651.5,1045.7 1655.7,1045.5 1658.9,1046.2 C1662.0,1047.0 1665.0,1049.0 1666.4,1051.6 C1667.8,1054.2 1667.6,1059.1 1667.2,1062.1 C1666.9,1065.0 1666.4,1066.6 1664.4,1069.0 C1662.5,1071.5 1657.7,1075.2 1655.4,1076.9 C1653.1,1078.7 1653.6,1078.7 1650.7,1079.5 C1647.8,1080.3 1641.2,1082.0 1637.9,1081.8 C1634.7,1081.6 1632.7,1080.1 1631.2,1078.3 C1629.6,1076.6 1629.0,1073.5 1628.6,1071.1 C1628.2,1068.8 1627.9,1067.0 1628.9,1064.1 Z" stroke-width="3.4" fill="#fff"/>
<path d="M1641.2,1067.9 L1646.3,1060.9 L1653.1,1059.7 L1674.2,1079.3 L1664.9,1087.6 L1660.3,1086.5 L1643.8,1072.5 L1641.2,1067.9 Z" stroke-width="3.4" fill="#fff"/>
<path d="M1660.0,1076.9 L1665.8,1086.2" stroke-width="2.55" fill="none"/>
<ellipse cx="1667.0" cy="1081.6" rx="3.7" ry="4.4" transform="rotate(40 1667.0 1081.6)" stroke-width="2.55" fill="#fff"/>
<ellipse cx="1323.2" cy="645.1" rx="7.5" ry="4.5" transform="rotate(-25 1323.2 645.1)" stroke-width="2.55" fill="#fff"/>
</svg></body></html>
